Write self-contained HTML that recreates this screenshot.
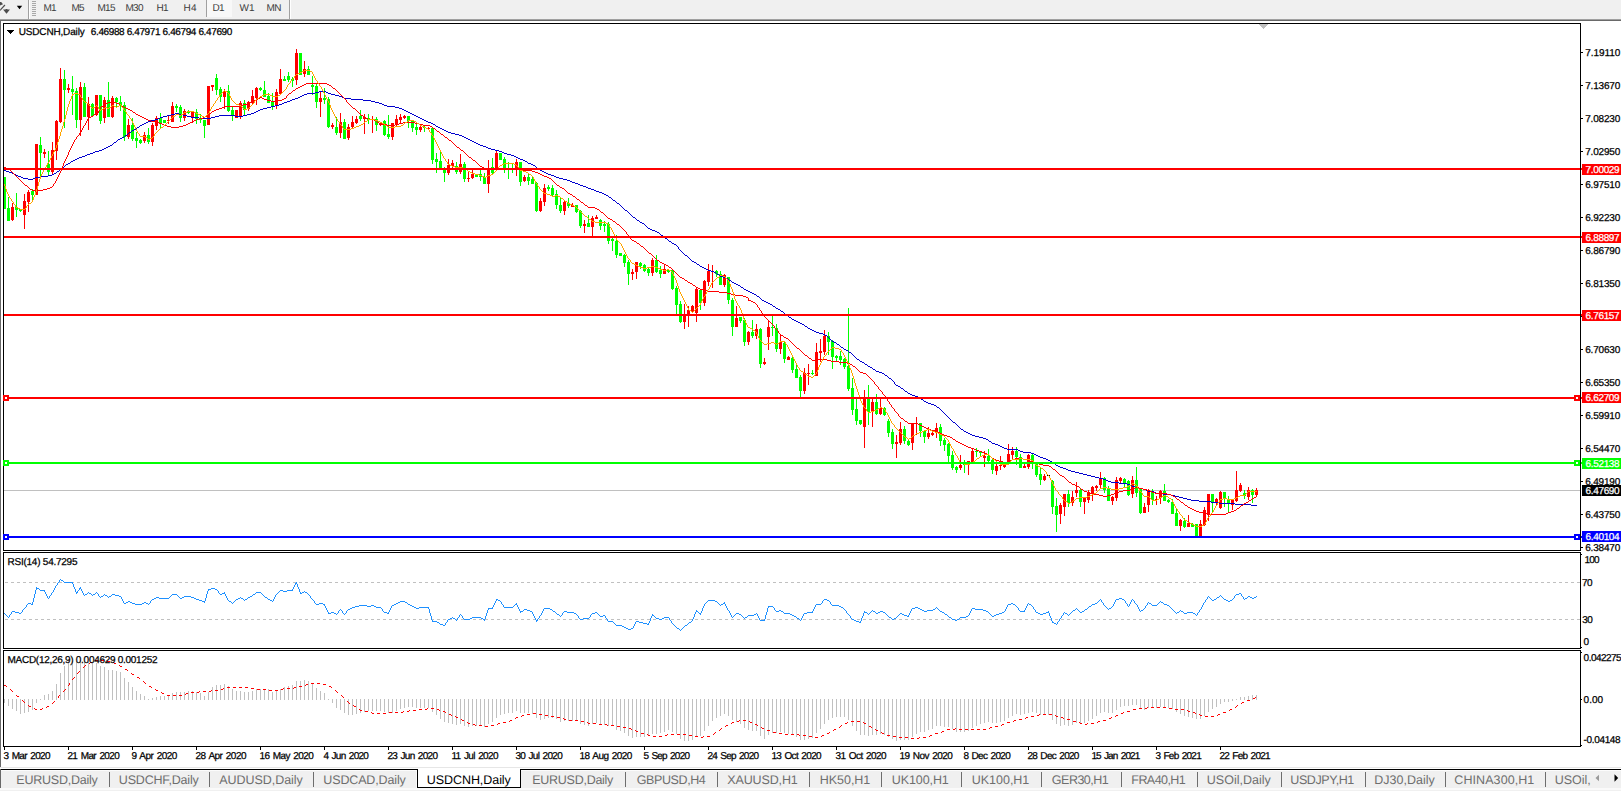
<!DOCTYPE html>
<html><head><meta charset="utf-8"><title>USDCNH,Daily</title>
<style>
html,body{margin:0;padding:0;background:#fff;overflow:hidden}
svg{display:block}
text{font-family:"Liberation Sans",sans-serif;white-space:pre;text-rendering:geometricPrecision;stroke-width:0.25px}
.c{shape-rendering:crispEdges}
</style></head><body>
<svg width="1621" height="791" viewBox="0 0 1621 791" shape-rendering="crispEdges">
<rect x="0" y="0" width="1621" height="791" fill="#ffffff" />
<rect x="0" y="0" width="1621" height="19" fill="#f0f0f0" />
<rect x="0" y="19" width="1621" height="1" fill="#a0a0a0" />
<rect x="0" y="20" width="1621" height="1" fill="#696969" />
<rect x="28" y="0" width="1" height="19" fill="#a0a0a0" />
<rect x="29" y="0" width="1" height="19" fill="#ffffff" />
<rect x="32" y="1" width="4" height="1" fill="#a8a8a8" />
<rect x="32" y="3" width="4" height="1" fill="#a8a8a8" />
<rect x="32" y="5" width="4" height="1" fill="#a8a8a8" />
<rect x="32" y="7" width="4" height="1" fill="#a8a8a8" />
<rect x="32" y="9" width="4" height="1" fill="#a8a8a8" />
<rect x="32" y="11" width="4" height="1" fill="#a8a8a8" />
<rect x="32" y="13" width="4" height="1" fill="#a8a8a8" />
<rect x="32" y="15" width="4" height="1" fill="#a8a8a8" />
<rect x="206" y="0" width="1" height="17" fill="#a0a0a0" />
<rect x="207" y="0" width="25" height="17" fill="#f8f8f8" />
<rect x="289" y="0" width="1" height="19" fill="#a0a0a0" />
<rect x="290" y="0" width="1" height="19" fill="#ffffff" />
<text x="43.5" y="11" font-size="10" fill="#3c3c3c" textLength="13" lengthAdjust="spacing" >M1</text>
<text x="71.5" y="11" font-size="10" fill="#3c3c3c" textLength="13" lengthAdjust="spacing" >M5</text>
<text x="97.5" y="11" font-size="10" fill="#3c3c3c" textLength="18" lengthAdjust="spacing" >M15</text>
<text x="125.5" y="11" font-size="10" fill="#3c3c3c" textLength="18" lengthAdjust="spacing" >M30</text>
<text x="156.5" y="11" font-size="10" fill="#3c3c3c" textLength="12" lengthAdjust="spacing" >H1</text>
<text x="183.5" y="11" font-size="10" fill="#3c3c3c" textLength="13" lengthAdjust="spacing" >H4</text>
<text x="212.5" y="11" font-size="10" fill="#3c3c3c" textLength="12" lengthAdjust="spacing" >D1</text>
<text x="239.5" y="11" font-size="10" fill="#3c3c3c" textLength="15" lengthAdjust="spacing" >W1</text>
<text x="266.5" y="11" font-size="10" fill="#3c3c3c" textLength="15" lengthAdjust="spacing" >MN</text>
<g shape-rendering="auto">
<path d="M0 2 L1.2 2 L3 4.2 L0 5.6 Z" fill="#4d4d4d"/>
<path d="M4.9 5 L0 10.4" stroke="#4d4d4d" stroke-width="1.2" fill="none"/>
<path d="M3 9.6 L5.6 9.6 L5.6 9 L7.4 9 L7.4 9.6 L10 9.6 L6.5 13.8 Z" fill="#4d4d4d"/>
<path d="M16.8 5.8 L22.2 5.8 L19.5 9.2 Z" fill="#000"/>
</g>
<rect x="0" y="21" width="1" height="746" fill="#696969" />
<rect x="4" y="490" width="1576" height="1" fill="#c0c0c0"/>
<rect x="4" y="177" width="1" height="32" fill="#00ff00"/>
<rect x="3" y="177" width="3" height="32" fill="#00ff00"/>
<rect x="8" y="197" width="1" height="24" fill="#00ff00"/>
<rect x="7" y="208" width="3" height="13" fill="#00ff00"/>
<rect x="12" y="203" width="1" height="18" fill="#ff0000"/>
<rect x="11" y="207" width="3" height="13" fill="#ff0000"/>
<rect x="16" y="193" width="1" height="24" fill="#00ff00"/>
<rect x="15" y="207" width="3" height="3" fill="#00ff00"/>
<rect x="20" y="209" width="1" height="3" fill="#00ff00"/>
<rect x="19" y="209" width="3" height="2" fill="#00ff00"/>
<rect x="24" y="194" width="1" height="35" fill="#ff0000"/>
<rect x="23" y="201" width="3" height="14" fill="#ff0000"/>
<rect x="28" y="190" width="1" height="22" fill="#ff0000"/>
<rect x="27" y="192" width="3" height="10" fill="#ff0000"/>
<rect x="32" y="189" width="1" height="12" fill="#00ff00"/>
<rect x="31" y="191" width="3" height="4" fill="#00ff00"/>
<rect x="36" y="144" width="1" height="51" fill="#ff0000"/>
<rect x="35" y="144" width="3" height="51" fill="#ff0000"/>
<rect x="40" y="137" width="1" height="39" fill="#00ff00"/>
<rect x="39" y="145" width="3" height="8" fill="#00ff00"/>
<rect x="44" y="149" width="1" height="9" fill="#ff0000"/>
<rect x="43" y="152" width="3" height="2" fill="#ff0000"/>
<rect x="48" y="151" width="1" height="25" fill="#00ff00"/>
<rect x="47" y="164" width="3" height="8" fill="#00ff00"/>
<rect x="52" y="142" width="1" height="33" fill="#ff0000"/>
<rect x="51" y="150" width="3" height="22" fill="#ff0000"/>
<rect x="56" y="120" width="1" height="40" fill="#ff0000"/>
<rect x="55" y="121" width="3" height="30" fill="#ff0000"/>
<rect x="60" y="68" width="1" height="55" fill="#ff0000"/>
<rect x="59" y="79" width="3" height="43" fill="#ff0000"/>
<rect x="64" y="70" width="1" height="58" fill="#00ff00"/>
<rect x="63" y="79" width="3" height="11" fill="#00ff00"/>
<rect x="68" y="84" width="1" height="9" fill="#ff0000"/>
<rect x="67" y="88" width="3" height="2" fill="#ff0000"/>
<rect x="72" y="76" width="1" height="39" fill="#00ff00"/>
<rect x="71" y="89" width="3" height="3" fill="#00ff00"/>
<rect x="76" y="88" width="1" height="40" fill="#00ff00"/>
<rect x="75" y="91" width="3" height="29" fill="#00ff00"/>
<rect x="80" y="82" width="1" height="54" fill="#ff0000"/>
<rect x="79" y="87" width="3" height="33" fill="#ff0000"/>
<rect x="84" y="83" width="1" height="34" fill="#00ff00"/>
<rect x="83" y="87" width="3" height="30" fill="#00ff00"/>
<rect x="88" y="97" width="1" height="33" fill="#ff0000"/>
<rect x="87" y="104" width="3" height="13" fill="#ff0000"/>
<rect x="92" y="103" width="1" height="13" fill="#00ff00"/>
<rect x="91" y="104" width="3" height="12" fill="#00ff00"/>
<rect x="96" y="95" width="1" height="21" fill="#ff0000"/>
<rect x="95" y="95" width="3" height="20" fill="#ff0000"/>
<rect x="100" y="95" width="1" height="29" fill="#00ff00"/>
<rect x="99" y="95" width="3" height="26" fill="#00ff00"/>
<rect x="104" y="97" width="1" height="26" fill="#ff0000"/>
<rect x="103" y="100" width="3" height="18" fill="#ff0000"/>
<rect x="108" y="82" width="1" height="35" fill="#00ff00"/>
<rect x="107" y="100" width="3" height="17" fill="#00ff00"/>
<rect x="112" y="96" width="1" height="22" fill="#ff0000"/>
<rect x="111" y="98" width="3" height="19" fill="#ff0000"/>
<rect x="116" y="97" width="1" height="10" fill="#00ff00"/>
<rect x="115" y="98" width="3" height="4" fill="#00ff00"/>
<rect x="120" y="96" width="1" height="15" fill="#00ff00"/>
<rect x="119" y="102" width="3" height="4" fill="#00ff00"/>
<rect x="124" y="102" width="1" height="39" fill="#00ff00"/>
<rect x="123" y="105" width="3" height="32" fill="#00ff00"/>
<rect x="128" y="119" width="1" height="20" fill="#ff0000"/>
<rect x="127" y="125" width="3" height="12" fill="#ff0000"/>
<rect x="132" y="118" width="1" height="23" fill="#00ff00"/>
<rect x="131" y="125" width="3" height="14" fill="#00ff00"/>
<rect x="136" y="132" width="1" height="16" fill="#00ff00"/>
<rect x="135" y="138" width="3" height="3" fill="#00ff00"/>
<rect x="140" y="139" width="1" height="5" fill="#00ff00"/>
<rect x="139" y="140" width="3" height="3" fill="#00ff00"/>
<rect x="144" y="132" width="1" height="11" fill="#ff0000"/>
<rect x="143" y="135" width="3" height="6" fill="#ff0000"/>
<rect x="148" y="128" width="1" height="16" fill="#00ff00"/>
<rect x="147" y="135" width="3" height="7" fill="#00ff00"/>
<rect x="152" y="123" width="1" height="23" fill="#ff0000"/>
<rect x="151" y="125" width="3" height="17" fill="#ff0000"/>
<rect x="156" y="116" width="1" height="14" fill="#ff0000"/>
<rect x="155" y="118" width="3" height="8" fill="#ff0000"/>
<rect x="160" y="113" width="1" height="15" fill="#00ff00"/>
<rect x="159" y="118" width="3" height="5" fill="#00ff00"/>
<rect x="164" y="120" width="1" height="3" fill="#00ff00"/>
<rect x="163" y="120" width="3" height="3" fill="#00ff00"/>
<rect x="168" y="116" width="1" height="8" fill="#ff0000"/>
<rect x="167" y="120" width="3" height="1" fill="#ff0000"/>
<rect x="172" y="102" width="1" height="20" fill="#ff0000"/>
<rect x="171" y="106" width="3" height="16" fill="#ff0000"/>
<rect x="176" y="104" width="1" height="8" fill="#00ff00"/>
<rect x="175" y="106" width="3" height="2" fill="#00ff00"/>
<rect x="180" y="105" width="1" height="17" fill="#00ff00"/>
<rect x="179" y="107" width="3" height="11" fill="#00ff00"/>
<rect x="184" y="109" width="1" height="12" fill="#ff0000"/>
<rect x="183" y="111" width="3" height="7" fill="#ff0000"/>
<rect x="188" y="110" width="1" height="4" fill="#00ff00"/>
<rect x="187" y="111" width="3" height="2" fill="#00ff00"/>
<rect x="192" y="111" width="1" height="12" fill="#ff0000"/>
<rect x="191" y="112" width="3" height="6" fill="#ff0000"/>
<rect x="196" y="109" width="1" height="15" fill="#00ff00"/>
<rect x="195" y="112" width="3" height="7" fill="#00ff00"/>
<rect x="200" y="114" width="1" height="9" fill="#00ff00"/>
<rect x="199" y="118" width="3" height="2" fill="#00ff00"/>
<rect x="204" y="120" width="1" height="18" fill="#00ff00"/>
<rect x="203" y="120" width="3" height="6" fill="#00ff00"/>
<rect x="208" y="86" width="1" height="39" fill="#ff0000"/>
<rect x="207" y="86" width="3" height="39" fill="#ff0000"/>
<rect x="212" y="85" width="1" height="6" fill="#ff0000"/>
<rect x="211" y="85" width="3" height="2" fill="#ff0000"/>
<rect x="216" y="74" width="1" height="21" fill="#00ff00"/>
<rect x="215" y="78" width="3" height="12" fill="#00ff00"/>
<rect x="220" y="87" width="1" height="15" fill="#00ff00"/>
<rect x="219" y="89" width="3" height="8" fill="#00ff00"/>
<rect x="224" y="89" width="1" height="20" fill="#ff0000"/>
<rect x="223" y="92" width="3" height="5" fill="#ff0000"/>
<rect x="228" y="85" width="1" height="27" fill="#00ff00"/>
<rect x="227" y="91" width="3" height="20" fill="#00ff00"/>
<rect x="232" y="106" width="1" height="15" fill="#00ff00"/>
<rect x="231" y="110" width="3" height="6" fill="#00ff00"/>
<rect x="236" y="110" width="1" height="8" fill="#ff0000"/>
<rect x="235" y="110" width="3" height="8" fill="#ff0000"/>
<rect x="240" y="101" width="1" height="18" fill="#ff0000"/>
<rect x="239" y="103" width="3" height="13" fill="#ff0000"/>
<rect x="244" y="100" width="1" height="15" fill="#00ff00"/>
<rect x="243" y="103" width="3" height="7" fill="#00ff00"/>
<rect x="248" y="101" width="1" height="10" fill="#ff0000"/>
<rect x="247" y="102" width="3" height="7" fill="#ff0000"/>
<rect x="252" y="90" width="1" height="14" fill="#ff0000"/>
<rect x="251" y="96" width="3" height="7" fill="#ff0000"/>
<rect x="256" y="87" width="1" height="18" fill="#ff0000"/>
<rect x="255" y="88" width="3" height="10" fill="#ff0000"/>
<rect x="260" y="87" width="1" height="4" fill="#00ff00"/>
<rect x="259" y="88" width="3" height="2" fill="#00ff00"/>
<rect x="264" y="81" width="1" height="16" fill="#00ff00"/>
<rect x="263" y="90" width="3" height="7" fill="#00ff00"/>
<rect x="268" y="93" width="1" height="10" fill="#00ff00"/>
<rect x="267" y="96" width="3" height="7" fill="#00ff00"/>
<rect x="272" y="93" width="1" height="17" fill="#00ff00"/>
<rect x="271" y="102" width="3" height="4" fill="#00ff00"/>
<rect x="276" y="89" width="1" height="20" fill="#ff0000"/>
<rect x="275" y="92" width="3" height="14" fill="#ff0000"/>
<rect x="280" y="69" width="1" height="26" fill="#ff0000"/>
<rect x="279" y="79" width="3" height="15" fill="#ff0000"/>
<rect x="284" y="76" width="1" height="5" fill="#00ff00"/>
<rect x="283" y="79" width="3" height="2" fill="#00ff00"/>
<rect x="288" y="72" width="1" height="10" fill="#00ff00"/>
<rect x="287" y="76" width="3" height="4" fill="#00ff00"/>
<rect x="292" y="77" width="1" height="10" fill="#00ff00"/>
<rect x="291" y="79" width="3" height="2" fill="#00ff00"/>
<rect x="296" y="49" width="1" height="36" fill="#ff0000"/>
<rect x="295" y="53" width="3" height="27" fill="#ff0000"/>
<rect x="300" y="53" width="1" height="22" fill="#00ff00"/>
<rect x="299" y="53" width="3" height="22" fill="#00ff00"/>
<rect x="304" y="61" width="1" height="16" fill="#ff0000"/>
<rect x="303" y="69" width="3" height="5" fill="#ff0000"/>
<rect x="308" y="66" width="1" height="9" fill="#00ff00"/>
<rect x="307" y="69" width="3" height="6" fill="#00ff00"/>
<rect x="312" y="76" width="1" height="19" fill="#00ff00"/>
<rect x="311" y="85" width="3" height="2" fill="#00ff00"/>
<rect x="316" y="84" width="1" height="24" fill="#00ff00"/>
<rect x="315" y="86" width="3" height="16" fill="#00ff00"/>
<rect x="320" y="91" width="1" height="26" fill="#ff0000"/>
<rect x="319" y="98" width="3" height="4" fill="#ff0000"/>
<rect x="324" y="88" width="1" height="16" fill="#00ff00"/>
<rect x="323" y="98" width="3" height="2" fill="#00ff00"/>
<rect x="328" y="97" width="1" height="31" fill="#00ff00"/>
<rect x="327" y="99" width="3" height="28" fill="#00ff00"/>
<rect x="332" y="123" width="1" height="6" fill="#ff0000"/>
<rect x="331" y="125" width="3" height="2" fill="#ff0000"/>
<rect x="336" y="117" width="1" height="18" fill="#00ff00"/>
<rect x="335" y="127" width="3" height="6" fill="#00ff00"/>
<rect x="340" y="113" width="1" height="25" fill="#ff0000"/>
<rect x="339" y="122" width="3" height="11" fill="#ff0000"/>
<rect x="344" y="119" width="1" height="20" fill="#00ff00"/>
<rect x="343" y="122" width="3" height="17" fill="#00ff00"/>
<rect x="348" y="124" width="1" height="16" fill="#ff0000"/>
<rect x="347" y="127" width="3" height="11" fill="#ff0000"/>
<rect x="352" y="116" width="1" height="12" fill="#ff0000"/>
<rect x="351" y="122" width="3" height="5" fill="#ff0000"/>
<rect x="356" y="116" width="1" height="8" fill="#ff0000"/>
<rect x="355" y="119" width="3" height="4" fill="#ff0000"/>
<rect x="360" y="110" width="1" height="11" fill="#00ff00"/>
<rect x="359" y="116" width="3" height="3" fill="#00ff00"/>
<rect x="364" y="114" width="1" height="20" fill="#ff0000"/>
<rect x="363" y="117" width="3" height="2" fill="#ff0000"/>
<rect x="368" y="114" width="1" height="10" fill="#00ff00"/>
<rect x="367" y="118" width="3" height="2" fill="#00ff00"/>
<rect x="372" y="116" width="1" height="17" fill="#ff0000"/>
<rect x="371" y="119" width="3" height="1" fill="#ff0000"/>
<rect x="376" y="117" width="1" height="14" fill="#00ff00"/>
<rect x="375" y="119" width="3" height="6" fill="#00ff00"/>
<rect x="380" y="122" width="1" height="4" fill="#ff0000"/>
<rect x="379" y="123" width="3" height="2" fill="#ff0000"/>
<rect x="384" y="120" width="1" height="16" fill="#00ff00"/>
<rect x="383" y="121" width="3" height="14" fill="#00ff00"/>
<rect x="388" y="115" width="1" height="24" fill="#00ff00"/>
<rect x="387" y="134" width="3" height="3" fill="#00ff00"/>
<rect x="392" y="123" width="1" height="17" fill="#ff0000"/>
<rect x="391" y="123" width="3" height="14" fill="#ff0000"/>
<rect x="396" y="115" width="1" height="12" fill="#ff0000"/>
<rect x="395" y="119" width="3" height="6" fill="#ff0000"/>
<rect x="400" y="114" width="1" height="9" fill="#ff0000"/>
<rect x="399" y="117" width="3" height="3" fill="#ff0000"/>
<rect x="404" y="115" width="1" height="4" fill="#ff0000"/>
<rect x="403" y="116" width="3" height="2" fill="#ff0000"/>
<rect x="408" y="116" width="1" height="12" fill="#00ff00"/>
<rect x="407" y="116" width="3" height="5" fill="#00ff00"/>
<rect x="412" y="120" width="1" height="12" fill="#00ff00"/>
<rect x="411" y="121" width="3" height="7" fill="#00ff00"/>
<rect x="416" y="123" width="1" height="12" fill="#00ff00"/>
<rect x="415" y="127" width="3" height="3" fill="#00ff00"/>
<rect x="420" y="125" width="1" height="7" fill="#ff0000"/>
<rect x="419" y="127" width="3" height="3" fill="#ff0000"/>
<rect x="424" y="126" width="1" height="6" fill="#00ff00"/>
<rect x="423" y="127" width="3" height="1" fill="#00ff00"/>
<rect x="428" y="127" width="1" height="2" fill="#ff0000"/>
<rect x="427" y="128" width="3" height="1" fill="#ff0000"/>
<rect x="432" y="127" width="1" height="37" fill="#00ff00"/>
<rect x="431" y="128" width="3" height="32" fill="#00ff00"/>
<rect x="436" y="153" width="1" height="20" fill="#00ff00"/>
<rect x="435" y="159" width="3" height="3" fill="#00ff00"/>
<rect x="440" y="151" width="1" height="17" fill="#00ff00"/>
<rect x="439" y="161" width="3" height="7" fill="#00ff00"/>
<rect x="444" y="167" width="1" height="15" fill="#00ff00"/>
<rect x="443" y="169" width="3" height="4" fill="#00ff00"/>
<rect x="448" y="159" width="1" height="16" fill="#ff0000"/>
<rect x="447" y="165" width="3" height="8" fill="#ff0000"/>
<rect x="452" y="160" width="1" height="8" fill="#ff0000"/>
<rect x="451" y="163" width="3" height="3" fill="#ff0000"/>
<rect x="456" y="162" width="1" height="12" fill="#00ff00"/>
<rect x="455" y="166" width="3" height="6" fill="#00ff00"/>
<rect x="460" y="154" width="1" height="20" fill="#ff0000"/>
<rect x="459" y="164" width="3" height="8" fill="#ff0000"/>
<rect x="464" y="162" width="1" height="20" fill="#00ff00"/>
<rect x="463" y="164" width="3" height="15" fill="#00ff00"/>
<rect x="468" y="172" width="1" height="10" fill="#ff0000"/>
<rect x="467" y="178" width="3" height="1" fill="#ff0000"/>
<rect x="472" y="169" width="1" height="10" fill="#ff0000"/>
<rect x="471" y="174" width="3" height="4" fill="#ff0000"/>
<rect x="476" y="174" width="1" height="3" fill="#00ff00"/>
<rect x="475" y="175" width="3" height="2" fill="#00ff00"/>
<rect x="480" y="169" width="1" height="12" fill="#00ff00"/>
<rect x="479" y="174" width="3" height="3" fill="#00ff00"/>
<rect x="484" y="173" width="1" height="11" fill="#00ff00"/>
<rect x="483" y="177" width="3" height="7" fill="#00ff00"/>
<rect x="488" y="160" width="1" height="33" fill="#ff0000"/>
<rect x="487" y="168" width="3" height="16" fill="#ff0000"/>
<rect x="492" y="158" width="1" height="16" fill="#00ff00"/>
<rect x="491" y="167" width="3" height="6" fill="#00ff00"/>
<rect x="496" y="150" width="1" height="21" fill="#ff0000"/>
<rect x="495" y="153" width="3" height="17" fill="#ff0000"/>
<rect x="500" y="153" width="1" height="7" fill="#00ff00"/>
<rect x="499" y="153" width="3" height="7" fill="#00ff00"/>
<rect x="504" y="157" width="1" height="16" fill="#00ff00"/>
<rect x="503" y="159" width="3" height="10" fill="#00ff00"/>
<rect x="508" y="162" width="1" height="17" fill="#00ff00"/>
<rect x="507" y="168" width="3" height="1" fill="#00ff00"/>
<rect x="512" y="164" width="1" height="9" fill="#00ff00"/>
<rect x="511" y="168" width="3" height="1" fill="#00ff00"/>
<rect x="516" y="159" width="1" height="17" fill="#ff0000"/>
<rect x="515" y="162" width="3" height="7" fill="#ff0000"/>
<rect x="520" y="162" width="1" height="24" fill="#00ff00"/>
<rect x="519" y="162" width="3" height="20" fill="#00ff00"/>
<rect x="524" y="175" width="1" height="7" fill="#ff0000"/>
<rect x="523" y="177" width="3" height="4" fill="#ff0000"/>
<rect x="528" y="173" width="1" height="12" fill="#00ff00"/>
<rect x="527" y="177" width="3" height="4" fill="#00ff00"/>
<rect x="532" y="176" width="1" height="8" fill="#00ff00"/>
<rect x="531" y="179" width="3" height="5" fill="#00ff00"/>
<rect x="536" y="182" width="1" height="30" fill="#00ff00"/>
<rect x="535" y="183" width="3" height="28" fill="#00ff00"/>
<rect x="540" y="198" width="1" height="14" fill="#ff0000"/>
<rect x="539" y="201" width="3" height="10" fill="#ff0000"/>
<rect x="544" y="184" width="1" height="22" fill="#ff0000"/>
<rect x="543" y="188" width="3" height="14" fill="#ff0000"/>
<rect x="548" y="185" width="1" height="6" fill="#00ff00"/>
<rect x="547" y="187" width="3" height="2" fill="#00ff00"/>
<rect x="552" y="185" width="1" height="12" fill="#00ff00"/>
<rect x="551" y="188" width="3" height="7" fill="#00ff00"/>
<rect x="556" y="190" width="1" height="19" fill="#00ff00"/>
<rect x="555" y="194" width="3" height="11" fill="#00ff00"/>
<rect x="560" y="198" width="1" height="15" fill="#00ff00"/>
<rect x="559" y="205" width="3" height="6" fill="#00ff00"/>
<rect x="564" y="201" width="1" height="14" fill="#ff0000"/>
<rect x="563" y="202" width="3" height="9" fill="#ff0000"/>
<rect x="568" y="198" width="1" height="10" fill="#00ff00"/>
<rect x="567" y="203" width="3" height="3" fill="#00ff00"/>
<rect x="572" y="203" width="1" height="4" fill="#ff0000"/>
<rect x="571" y="205" width="3" height="2" fill="#ff0000"/>
<rect x="576" y="205" width="1" height="8" fill="#00ff00"/>
<rect x="575" y="205" width="3" height="7" fill="#00ff00"/>
<rect x="580" y="210" width="1" height="18" fill="#00ff00"/>
<rect x="579" y="211" width="3" height="15" fill="#00ff00"/>
<rect x="584" y="220" width="1" height="13" fill="#ff0000"/>
<rect x="583" y="224" width="3" height="2" fill="#ff0000"/>
<rect x="588" y="215" width="1" height="12" fill="#00ff00"/>
<rect x="587" y="223" width="3" height="4" fill="#00ff00"/>
<rect x="592" y="216" width="1" height="20" fill="#ff0000"/>
<rect x="591" y="218" width="3" height="9" fill="#ff0000"/>
<rect x="596" y="215" width="1" height="4" fill="#ff0000"/>
<rect x="595" y="217" width="3" height="2" fill="#ff0000"/>
<rect x="600" y="219" width="1" height="11" fill="#00ff00"/>
<rect x="599" y="220" width="3" height="6" fill="#00ff00"/>
<rect x="604" y="221" width="1" height="11" fill="#00ff00"/>
<rect x="603" y="224" width="3" height="2" fill="#00ff00"/>
<rect x="608" y="222" width="1" height="22" fill="#00ff00"/>
<rect x="607" y="224" width="3" height="17" fill="#00ff00"/>
<rect x="612" y="238" width="1" height="13" fill="#00ff00"/>
<rect x="611" y="239" width="3" height="2" fill="#00ff00"/>
<rect x="616" y="235" width="1" height="23" fill="#00ff00"/>
<rect x="615" y="241" width="3" height="14" fill="#00ff00"/>
<rect x="620" y="253" width="1" height="3" fill="#00ff00"/>
<rect x="619" y="253" width="3" height="3" fill="#00ff00"/>
<rect x="624" y="254" width="1" height="13" fill="#00ff00"/>
<rect x="623" y="255" width="3" height="8" fill="#00ff00"/>
<rect x="628" y="260" width="1" height="25" fill="#00ff00"/>
<rect x="627" y="262" width="3" height="12" fill="#00ff00"/>
<rect x="632" y="269" width="1" height="11" fill="#ff0000"/>
<rect x="631" y="272" width="3" height="2" fill="#ff0000"/>
<rect x="636" y="262" width="1" height="17" fill="#ff0000"/>
<rect x="635" y="262" width="3" height="10" fill="#ff0000"/>
<rect x="640" y="262" width="1" height="7" fill="#00ff00"/>
<rect x="639" y="263" width="3" height="3" fill="#00ff00"/>
<rect x="644" y="264" width="1" height="8" fill="#00ff00"/>
<rect x="643" y="265" width="3" height="6" fill="#00ff00"/>
<rect x="648" y="268" width="1" height="8" fill="#00ff00"/>
<rect x="647" y="269" width="3" height="4" fill="#00ff00"/>
<rect x="652" y="258" width="1" height="18" fill="#ff0000"/>
<rect x="651" y="260" width="3" height="13" fill="#ff0000"/>
<rect x="656" y="255" width="1" height="18" fill="#00ff00"/>
<rect x="655" y="260" width="3" height="12" fill="#00ff00"/>
<rect x="660" y="266" width="1" height="12" fill="#00ff00"/>
<rect x="659" y="270" width="3" height="4" fill="#00ff00"/>
<rect x="664" y="264" width="1" height="10" fill="#ff0000"/>
<rect x="663" y="269" width="3" height="5" fill="#ff0000"/>
<rect x="668" y="269" width="1" height="4" fill="#00ff00"/>
<rect x="667" y="270" width="3" height="2" fill="#00ff00"/>
<rect x="672" y="270" width="1" height="20" fill="#00ff00"/>
<rect x="671" y="270" width="3" height="19" fill="#00ff00"/>
<rect x="676" y="286" width="1" height="28" fill="#00ff00"/>
<rect x="675" y="288" width="3" height="17" fill="#00ff00"/>
<rect x="680" y="301" width="1" height="22" fill="#00ff00"/>
<rect x="679" y="304" width="3" height="18" fill="#00ff00"/>
<rect x="684" y="304" width="1" height="25" fill="#ff0000"/>
<rect x="683" y="314" width="3" height="8" fill="#ff0000"/>
<rect x="688" y="306" width="1" height="21" fill="#ff0000"/>
<rect x="687" y="310" width="3" height="5" fill="#ff0000"/>
<rect x="692" y="305" width="1" height="8" fill="#ff0000"/>
<rect x="691" y="306" width="3" height="5" fill="#ff0000"/>
<rect x="696" y="287" width="1" height="35" fill="#ff0000"/>
<rect x="695" y="289" width="3" height="24" fill="#ff0000"/>
<rect x="700" y="289" width="1" height="21" fill="#00ff00"/>
<rect x="699" y="290" width="3" height="13" fill="#00ff00"/>
<rect x="704" y="280" width="1" height="26" fill="#ff0000"/>
<rect x="703" y="281" width="3" height="22" fill="#ff0000"/>
<rect x="708" y="264" width="1" height="22" fill="#ff0000"/>
<rect x="707" y="271" width="3" height="11" fill="#ff0000"/>
<rect x="712" y="265" width="1" height="23" fill="#ff0000"/>
<rect x="711" y="271" width="3" height="1" fill="#ff0000"/>
<rect x="716" y="270" width="1" height="7" fill="#00ff00"/>
<rect x="715" y="271" width="3" height="3" fill="#00ff00"/>
<rect x="720" y="271" width="1" height="14" fill="#00ff00"/>
<rect x="719" y="274" width="3" height="11" fill="#00ff00"/>
<rect x="724" y="274" width="1" height="13" fill="#ff0000"/>
<rect x="723" y="275" width="3" height="10" fill="#ff0000"/>
<rect x="728" y="277" width="1" height="27" fill="#00ff00"/>
<rect x="727" y="277" width="3" height="23" fill="#00ff00"/>
<rect x="732" y="298" width="1" height="38" fill="#00ff00"/>
<rect x="731" y="300" width="3" height="27" fill="#00ff00"/>
<rect x="736" y="306" width="1" height="21" fill="#ff0000"/>
<rect x="735" y="318" width="3" height="9" fill="#ff0000"/>
<rect x="740" y="317" width="1" height="6" fill="#00ff00"/>
<rect x="739" y="317" width="3" height="4" fill="#00ff00"/>
<rect x="744" y="318" width="1" height="28" fill="#00ff00"/>
<rect x="743" y="320" width="3" height="22" fill="#00ff00"/>
<rect x="748" y="331" width="1" height="14" fill="#ff0000"/>
<rect x="747" y="332" width="3" height="10" fill="#ff0000"/>
<rect x="752" y="320" width="1" height="18" fill="#00ff00"/>
<rect x="751" y="332" width="3" height="4" fill="#00ff00"/>
<rect x="756" y="324" width="1" height="15" fill="#ff0000"/>
<rect x="755" y="329" width="3" height="7" fill="#ff0000"/>
<rect x="760" y="328" width="1" height="40" fill="#00ff00"/>
<rect x="759" y="329" width="3" height="35" fill="#00ff00"/>
<rect x="764" y="358" width="1" height="7" fill="#ff0000"/>
<rect x="763" y="362" width="3" height="2" fill="#ff0000"/>
<rect x="768" y="320" width="1" height="30" fill="#ff0000"/>
<rect x="767" y="327" width="3" height="10" fill="#ff0000"/>
<rect x="772" y="316" width="1" height="20" fill="#00ff00"/>
<rect x="771" y="327" width="3" height="1" fill="#00ff00"/>
<rect x="776" y="324" width="1" height="28" fill="#00ff00"/>
<rect x="775" y="328" width="3" height="21" fill="#00ff00"/>
<rect x="780" y="334" width="1" height="20" fill="#ff0000"/>
<rect x="779" y="342" width="3" height="7" fill="#ff0000"/>
<rect x="784" y="342" width="1" height="21" fill="#00ff00"/>
<rect x="783" y="343" width="3" height="16" fill="#00ff00"/>
<rect x="788" y="356" width="1" height="4" fill="#ff0000"/>
<rect x="787" y="357" width="3" height="3" fill="#ff0000"/>
<rect x="792" y="356" width="1" height="17" fill="#00ff00"/>
<rect x="791" y="358" width="3" height="12" fill="#00ff00"/>
<rect x="796" y="364" width="1" height="14" fill="#00ff00"/>
<rect x="795" y="369" width="3" height="9" fill="#00ff00"/>
<rect x="800" y="375" width="1" height="22" fill="#00ff00"/>
<rect x="799" y="377" width="3" height="14" fill="#00ff00"/>
<rect x="804" y="368" width="1" height="26" fill="#ff0000"/>
<rect x="803" y="373" width="3" height="18" fill="#ff0000"/>
<rect x="808" y="364" width="1" height="21" fill="#ff0000"/>
<rect x="807" y="373" width="3" height="1" fill="#ff0000"/>
<rect x="812" y="370" width="1" height="5" fill="#00ff00"/>
<rect x="811" y="373" width="3" height="1" fill="#00ff00"/>
<rect x="816" y="343" width="1" height="33" fill="#ff0000"/>
<rect x="815" y="352" width="3" height="24" fill="#ff0000"/>
<rect x="820" y="339" width="1" height="23" fill="#ff0000"/>
<rect x="819" y="351" width="3" height="2" fill="#ff0000"/>
<rect x="824" y="330" width="1" height="25" fill="#ff0000"/>
<rect x="823" y="336" width="3" height="16" fill="#ff0000"/>
<rect x="828" y="332" width="1" height="23" fill="#00ff00"/>
<rect x="827" y="336" width="3" height="6" fill="#00ff00"/>
<rect x="832" y="340" width="1" height="29" fill="#00ff00"/>
<rect x="831" y="341" width="3" height="16" fill="#00ff00"/>
<rect x="836" y="355" width="1" height="6" fill="#00ff00"/>
<rect x="835" y="356" width="3" height="2" fill="#00ff00"/>
<rect x="840" y="351" width="1" height="14" fill="#00ff00"/>
<rect x="839" y="356" width="3" height="4" fill="#00ff00"/>
<rect x="844" y="358" width="1" height="11" fill="#00ff00"/>
<rect x="843" y="359" width="3" height="8" fill="#00ff00"/>
<rect x="848" y="308" width="1" height="83" fill="#00ff00"/>
<rect x="847" y="366" width="3" height="23" fill="#00ff00"/>
<rect x="852" y="378" width="1" height="37" fill="#00ff00"/>
<rect x="851" y="388" width="3" height="22" fill="#00ff00"/>
<rect x="856" y="399" width="1" height="26" fill="#00ff00"/>
<rect x="855" y="409" width="3" height="12" fill="#00ff00"/>
<rect x="860" y="420" width="1" height="5" fill="#00ff00"/>
<rect x="859" y="420" width="3" height="4" fill="#00ff00"/>
<rect x="864" y="390" width="1" height="58" fill="#ff0000"/>
<rect x="863" y="398" width="3" height="29" fill="#ff0000"/>
<rect x="868" y="385" width="1" height="40" fill="#00ff00"/>
<rect x="867" y="398" width="3" height="14" fill="#00ff00"/>
<rect x="872" y="398" width="1" height="29" fill="#ff0000"/>
<rect x="871" y="402" width="3" height="10" fill="#ff0000"/>
<rect x="876" y="394" width="1" height="21" fill="#00ff00"/>
<rect x="875" y="402" width="3" height="12" fill="#00ff00"/>
<rect x="880" y="399" width="1" height="16" fill="#ff0000"/>
<rect x="879" y="408" width="3" height="6" fill="#ff0000"/>
<rect x="884" y="407" width="1" height="9" fill="#00ff00"/>
<rect x="883" y="408" width="3" height="7" fill="#00ff00"/>
<rect x="888" y="419" width="1" height="18" fill="#00ff00"/>
<rect x="887" y="421" width="3" height="12" fill="#00ff00"/>
<rect x="892" y="429" width="1" height="20" fill="#00ff00"/>
<rect x="891" y="432" width="3" height="12" fill="#00ff00"/>
<rect x="896" y="435" width="1" height="23" fill="#ff0000"/>
<rect x="895" y="442" width="3" height="2" fill="#ff0000"/>
<rect x="900" y="422" width="1" height="23" fill="#ff0000"/>
<rect x="899" y="429" width="3" height="14" fill="#ff0000"/>
<rect x="904" y="426" width="1" height="18" fill="#00ff00"/>
<rect x="903" y="429" width="3" height="12" fill="#00ff00"/>
<rect x="908" y="439" width="1" height="7" fill="#00ff00"/>
<rect x="907" y="441" width="3" height="4" fill="#00ff00"/>
<rect x="912" y="423" width="1" height="27" fill="#ff0000"/>
<rect x="911" y="423" width="3" height="20" fill="#ff0000"/>
<rect x="916" y="417" width="1" height="18" fill="#ff0000"/>
<rect x="915" y="423" width="3" height="1" fill="#ff0000"/>
<rect x="920" y="423" width="1" height="14" fill="#00ff00"/>
<rect x="919" y="423" width="3" height="8" fill="#00ff00"/>
<rect x="924" y="431" width="1" height="12" fill="#00ff00"/>
<rect x="923" y="431" width="3" height="6" fill="#00ff00"/>
<rect x="928" y="427" width="1" height="12" fill="#ff0000"/>
<rect x="927" y="433" width="3" height="4" fill="#ff0000"/>
<rect x="932" y="432" width="1" height="4" fill="#ff0000"/>
<rect x="931" y="433" width="3" height="2" fill="#ff0000"/>
<rect x="936" y="423" width="1" height="15" fill="#ff0000"/>
<rect x="935" y="428" width="3" height="4" fill="#ff0000"/>
<rect x="940" y="424" width="1" height="22" fill="#00ff00"/>
<rect x="939" y="427" width="3" height="14" fill="#00ff00"/>
<rect x="944" y="438" width="1" height="13" fill="#00ff00"/>
<rect x="943" y="440" width="3" height="5" fill="#00ff00"/>
<rect x="948" y="443" width="1" height="19" fill="#00ff00"/>
<rect x="947" y="444" width="3" height="12" fill="#00ff00"/>
<rect x="952" y="451" width="1" height="19" fill="#00ff00"/>
<rect x="951" y="455" width="3" height="13" fill="#00ff00"/>
<rect x="956" y="466" width="1" height="7" fill="#00ff00"/>
<rect x="955" y="467" width="3" height="3" fill="#00ff00"/>
<rect x="960" y="455" width="1" height="15" fill="#ff0000"/>
<rect x="959" y="465" width="3" height="3" fill="#ff0000"/>
<rect x="964" y="460" width="1" height="13" fill="#00ff00"/>
<rect x="963" y="463" width="3" height="2" fill="#00ff00"/>
<rect x="968" y="461" width="1" height="14" fill="#ff0000"/>
<rect x="967" y="461" width="3" height="4" fill="#ff0000"/>
<rect x="972" y="448" width="1" height="14" fill="#ff0000"/>
<rect x="971" y="451" width="3" height="11" fill="#ff0000"/>
<rect x="976" y="448" width="1" height="9" fill="#00ff00"/>
<rect x="975" y="451" width="3" height="1" fill="#00ff00"/>
<rect x="980" y="451" width="1" height="5" fill="#00ff00"/>
<rect x="979" y="452" width="3" height="1" fill="#00ff00"/>
<rect x="984" y="451" width="1" height="16" fill="#ff0000"/>
<rect x="983" y="456" width="3" height="2" fill="#ff0000"/>
<rect x="988" y="449" width="1" height="13" fill="#00ff00"/>
<rect x="987" y="456" width="3" height="5" fill="#00ff00"/>
<rect x="992" y="459" width="1" height="15" fill="#00ff00"/>
<rect x="991" y="460" width="3" height="10" fill="#00ff00"/>
<rect x="996" y="463" width="1" height="12" fill="#ff0000"/>
<rect x="995" y="466" width="3" height="5" fill="#ff0000"/>
<rect x="1000" y="456" width="1" height="14" fill="#ff0000"/>
<rect x="999" y="465" width="3" height="1" fill="#ff0000"/>
<rect x="1004" y="463" width="1" height="5" fill="#ff0000"/>
<rect x="1003" y="465" width="3" height="2" fill="#ff0000"/>
<rect x="1008" y="444" width="1" height="19" fill="#ff0000"/>
<rect x="1007" y="454" width="3" height="9" fill="#ff0000"/>
<rect x="1012" y="447" width="1" height="12" fill="#ff0000"/>
<rect x="1011" y="451" width="3" height="4" fill="#ff0000"/>
<rect x="1016" y="447" width="1" height="18" fill="#00ff00"/>
<rect x="1015" y="451" width="3" height="6" fill="#00ff00"/>
<rect x="1020" y="454" width="1" height="14" fill="#00ff00"/>
<rect x="1019" y="457" width="3" height="11" fill="#00ff00"/>
<rect x="1024" y="464" width="1" height="4" fill="#ff0000"/>
<rect x="1023" y="466" width="3" height="2" fill="#ff0000"/>
<rect x="1028" y="454" width="1" height="15" fill="#ff0000"/>
<rect x="1027" y="455" width="3" height="12" fill="#ff0000"/>
<rect x="1032" y="453" width="1" height="16" fill="#00ff00"/>
<rect x="1031" y="455" width="3" height="8" fill="#00ff00"/>
<rect x="1036" y="463" width="1" height="14" fill="#00ff00"/>
<rect x="1035" y="464" width="3" height="11" fill="#00ff00"/>
<rect x="1040" y="467" width="1" height="18" fill="#00ff00"/>
<rect x="1039" y="474" width="3" height="6" fill="#00ff00"/>
<rect x="1044" y="474" width="1" height="7" fill="#ff0000"/>
<rect x="1043" y="476" width="3" height="4" fill="#ff0000"/>
<rect x="1048" y="475" width="1" height="1" fill="#000000"/>
<rect x="1047" y="475" width="3" height="1" fill="#000000"/>
<rect x="1052" y="480" width="1" height="34" fill="#00ff00"/>
<rect x="1051" y="481" width="3" height="26" fill="#00ff00"/>
<rect x="1056" y="498" width="1" height="34" fill="#00ff00"/>
<rect x="1055" y="506" width="3" height="9" fill="#00ff00"/>
<rect x="1060" y="503" width="1" height="21" fill="#ff0000"/>
<rect x="1059" y="505" width="3" height="9" fill="#ff0000"/>
<rect x="1064" y="494" width="1" height="22" fill="#ff0000"/>
<rect x="1063" y="494" width="3" height="13" fill="#ff0000"/>
<rect x="1068" y="490" width="1" height="17" fill="#00ff00"/>
<rect x="1067" y="494" width="3" height="9" fill="#00ff00"/>
<rect x="1072" y="491" width="1" height="15" fill="#ff0000"/>
<rect x="1071" y="497" width="3" height="6" fill="#ff0000"/>
<rect x="1076" y="482" width="1" height="15" fill="#ff0000"/>
<rect x="1075" y="490" width="3" height="3" fill="#ff0000"/>
<rect x="1080" y="489" width="1" height="18" fill="#00ff00"/>
<rect x="1079" y="490" width="3" height="12" fill="#00ff00"/>
<rect x="1084" y="497" width="1" height="17" fill="#ff0000"/>
<rect x="1083" y="498" width="3" height="4" fill="#ff0000"/>
<rect x="1088" y="490" width="1" height="13" fill="#ff0000"/>
<rect x="1087" y="493" width="3" height="7" fill="#ff0000"/>
<rect x="1092" y="486" width="1" height="15" fill="#ff0000"/>
<rect x="1091" y="487" width="3" height="7" fill="#ff0000"/>
<rect x="1096" y="485" width="1" height="6" fill="#ff0000"/>
<rect x="1095" y="486" width="3" height="2" fill="#ff0000"/>
<rect x="1100" y="472" width="1" height="17" fill="#ff0000"/>
<rect x="1099" y="479" width="3" height="6" fill="#ff0000"/>
<rect x="1104" y="477" width="1" height="16" fill="#00ff00"/>
<rect x="1103" y="478" width="3" height="12" fill="#00ff00"/>
<rect x="1108" y="486" width="1" height="15" fill="#00ff00"/>
<rect x="1107" y="489" width="3" height="12" fill="#00ff00"/>
<rect x="1112" y="496" width="1" height="9" fill="#ff0000"/>
<rect x="1111" y="497" width="3" height="4" fill="#ff0000"/>
<rect x="1116" y="477" width="1" height="24" fill="#ff0000"/>
<rect x="1115" y="480" width="3" height="18" fill="#ff0000"/>
<rect x="1120" y="477" width="1" height="6" fill="#ff0000"/>
<rect x="1119" y="478" width="3" height="3" fill="#ff0000"/>
<rect x="1124" y="478" width="1" height="9" fill="#00ff00"/>
<rect x="1123" y="479" width="3" height="5" fill="#00ff00"/>
<rect x="1128" y="480" width="1" height="16" fill="#00ff00"/>
<rect x="1127" y="481" width="3" height="14" fill="#00ff00"/>
<rect x="1132" y="476" width="1" height="22" fill="#ff0000"/>
<rect x="1131" y="480" width="3" height="14" fill="#ff0000"/>
<rect x="1136" y="467" width="1" height="30" fill="#00ff00"/>
<rect x="1135" y="480" width="3" height="13" fill="#00ff00"/>
<rect x="1140" y="488" width="1" height="26" fill="#00ff00"/>
<rect x="1139" y="489" width="3" height="24" fill="#00ff00"/>
<rect x="1144" y="503" width="1" height="10" fill="#ff0000"/>
<rect x="1143" y="507" width="3" height="6" fill="#ff0000"/>
<rect x="1148" y="489" width="1" height="23" fill="#ff0000"/>
<rect x="1147" y="491" width="3" height="14" fill="#ff0000"/>
<rect x="1152" y="489" width="1" height="16" fill="#00ff00"/>
<rect x="1151" y="491" width="3" height="9" fill="#00ff00"/>
<rect x="1156" y="496" width="1" height="9" fill="#ff0000"/>
<rect x="1155" y="499" width="3" height="1" fill="#ff0000"/>
<rect x="1160" y="490" width="1" height="14" fill="#ff0000"/>
<rect x="1159" y="491" width="3" height="7" fill="#ff0000"/>
<rect x="1164" y="484" width="1" height="17" fill="#00ff00"/>
<rect x="1163" y="491" width="3" height="10" fill="#00ff00"/>
<rect x="1168" y="499" width="1" height="4" fill="#00ff00"/>
<rect x="1167" y="500" width="3" height="2" fill="#00ff00"/>
<rect x="1172" y="499" width="1" height="15" fill="#00ff00"/>
<rect x="1171" y="502" width="3" height="12" fill="#00ff00"/>
<rect x="1176" y="508" width="1" height="18" fill="#00ff00"/>
<rect x="1175" y="513" width="3" height="13" fill="#00ff00"/>
<rect x="1180" y="519" width="1" height="12" fill="#ff0000"/>
<rect x="1179" y="520" width="3" height="6" fill="#ff0000"/>
<rect x="1184" y="518" width="1" height="10" fill="#00ff00"/>
<rect x="1183" y="521" width="3" height="6" fill="#00ff00"/>
<rect x="1188" y="515" width="1" height="12" fill="#ff0000"/>
<rect x="1187" y="523" width="3" height="4" fill="#ff0000"/>
<rect x="1192" y="523" width="1" height="4" fill="#00ff00"/>
<rect x="1191" y="524" width="3" height="3" fill="#00ff00"/>
<rect x="1196" y="524" width="1" height="12" fill="#00ff00"/>
<rect x="1195" y="524" width="3" height="12" fill="#00ff00"/>
<rect x="1200" y="520" width="1" height="16" fill="#ff0000"/>
<rect x="1199" y="524" width="3" height="12" fill="#ff0000"/>
<rect x="1204" y="507" width="1" height="19" fill="#ff0000"/>
<rect x="1203" y="510" width="3" height="15" fill="#ff0000"/>
<rect x="1208" y="494" width="1" height="27" fill="#ff0000"/>
<rect x="1207" y="494" width="3" height="21" fill="#ff0000"/>
<rect x="1212" y="494" width="1" height="19" fill="#00ff00"/>
<rect x="1211" y="494" width="3" height="9" fill="#00ff00"/>
<rect x="1216" y="498" width="1" height="8" fill="#ff0000"/>
<rect x="1215" y="499" width="3" height="4" fill="#ff0000"/>
<rect x="1220" y="491" width="1" height="18" fill="#ff0000"/>
<rect x="1219" y="492" width="3" height="16" fill="#ff0000"/>
<rect x="1224" y="492" width="1" height="15" fill="#00ff00"/>
<rect x="1223" y="492" width="3" height="7" fill="#00ff00"/>
<rect x="1228" y="496" width="1" height="17" fill="#00ff00"/>
<rect x="1227" y="500" width="3" height="4" fill="#00ff00"/>
<rect x="1232" y="500" width="1" height="10" fill="#ff0000"/>
<rect x="1231" y="500" width="3" height="5" fill="#ff0000"/>
<rect x="1236" y="471" width="1" height="31" fill="#ff0000"/>
<rect x="1235" y="490" width="3" height="11" fill="#ff0000"/>
<rect x="1240" y="483" width="1" height="9" fill="#ff0000"/>
<rect x="1239" y="485" width="3" height="6" fill="#ff0000"/>
<rect x="1244" y="490" width="1" height="9" fill="#00ff00"/>
<rect x="1243" y="493" width="3" height="3" fill="#00ff00"/>
<rect x="1248" y="487" width="1" height="13" fill="#ff0000"/>
<rect x="1247" y="490" width="3" height="7" fill="#ff0000"/>
<rect x="1252" y="489" width="1" height="14" fill="#00ff00"/>
<rect x="1251" y="490" width="3" height="5" fill="#00ff00"/>
<rect x="1256" y="488" width="1" height="8" fill="#ff0000"/>
<rect x="1255" y="490" width="3" height="5" fill="#ff0000"/>
<path d="M319 91.5h7M315 92.5h4M326 92.5h2M307 93.5h8M328 93.5h3M304 94.5h3M331 94.5h4M302 95.5h2M335 95.5h4M300 96.5h2M339 96.5h3M298 97.5h2M342 97.5h2M295 98.5h3M344 98.5h7M292 99.5h3M351 99.5h12M290 100.5h2M363 100.5h8M287 101.5h3M371 101.5h4M284 102.5h3M375 102.5h4M282 103.5h2M379 103.5h3M279 104.5h3M382 104.5h2M275 105.5h4M384 105.5h3M271 106.5h4M387 106.5h8M267 107.5h4M395 107.5h4M263 108.5h4M399 108.5h3M260 109.5h3M402 109.5h2M258 110.5h2M404 110.5h2M256 111.5h2M406 111.5h2M254 112.5h2M408 112.5h2M175 113.5h4M251 113.5h3M410 113.5h2M171 114.5h4M179 114.5h4M247 114.5h4M412 114.5h2M167 115.5h4M183 115.5h4M219 115.5h16M243 115.5h4M414 115.5h2M163 116.5h4M187 116.5h4M215 116.5h4M235 116.5h8M416 116.5h2M160 117.5h3M191 117.5h8M211 117.5h4M418 117.5h2M158 118.5h2M199 118.5h12M420 118.5h2M155 119.5h3M422 119.5h2M151 120.5h4M424 120.5h2M148 121.5h3M426 121.5h2M146 122.5h2M428 122.5h3M144 123.5h2M431 123.5h2M142 124.5h2M433 124.5h2M140 125.5h2M435 125.5h1M139 126.5h1M436 126.5h2M137 127.5h2M438 127.5h2M136 128.5h1M440 128.5h2M134 129.5h2M442 129.5h2M132 130.5h2M444 130.5h2M131 131.5h1M446 131.5h2M129 132.5h2M448 132.5h3M128 133.5h1M451 133.5h4M127 134.5h1M455 134.5h4M125 135.5h2M459 135.5h3M124 136.5h1M462 136.5h2M122 137.5h2M464 137.5h2M120 138.5h2M466 138.5h2M118 139.5h2M468 139.5h2M117 140.5h1M470 140.5h2M116 141.5h1M472 141.5h2M114 142.5h2M474 142.5h2M113 143.5h1M476 143.5h2M112 144.5h1M478 144.5h2M110 145.5h2M480 145.5h3M108 146.5h2M483 146.5h3M106 147.5h2M486 147.5h2M104 148.5h2M488 148.5h3M102 149.5h2M491 149.5h4M99 150.5h3M495 150.5h4M95 151.5h4M499 151.5h3M93 152.5h2M502 152.5h2M90 153.5h3M504 153.5h3M87 154.5h3M507 154.5h4M85 155.5h2M511 155.5h3M82 156.5h3M514 156.5h2M79 157.5h3M516 157.5h2M77 158.5h2M518 158.5h2M75 159.5h2M520 159.5h3M73 160.5h2M523 160.5h2M71 161.5h2M525 161.5h2M70 162.5h1M527 162.5h1M68 163.5h2M528 163.5h3M66 164.5h2M531 164.5h2M65 165.5h1M533 165.5h2M64 166.5h1M535 166.5h1M62 167.5h2M536 167.5h1M61 168.5h1M537 168.5h2M60 169.5h1M539 169.5h1M4 170.5h2M59 170.5h1M540 170.5h2M6 171.5h3M57 171.5h2M542 171.5h2M9 172.5h3M56 172.5h1M544 172.5h2M12 173.5h2M54 173.5h2M546 173.5h2M14 174.5h2M52 174.5h2M548 174.5h3M16 175.5h2M48 175.5h4M551 175.5h3M18 176.5h3M41 176.5h7M554 176.5h2M21 177.5h2M35 177.5h6M556 177.5h3M23 178.5h5M33 178.5h2M559 178.5h4M28 179.5h5M563 179.5h4M567 180.5h3M570 181.5h2M572 182.5h3M575 183.5h3M578 184.5h2M580 185.5h3M583 186.5h3M586 187.5h2M588 188.5h3M591 189.5h3M594 190.5h2M596 191.5h3M599 192.5h3M602 193.5h2M604 194.5h2M606 195.5h2M608 196.5h1M609 197.5h2M611 198.5h1M612 199.5h1M613 200.5h2M615 201.5h1M616 202.5h1M617 203.5h2M619 204.5h1M620 205.5h1M621 206.5h1M622 207.5h1M623 208.5h1M624 209.5h1M625 210.5h2M627 211.5h1M628 212.5h1M629 213.5h1M630 214.5h1M631 215.5h1M632 216.5h1M633 217.5h2M635 218.5h1M636 219.5h1M637 220.5h2M639 221.5h1M640 222.5h2M642 223.5h2M644 224.5h1M645 225.5h1M646 226.5h1M647 227.5h1M648 228.5h2M650 229.5h2M652 230.5h3M655 231.5h2M657 232.5h2M659 233.5h1M660 234.5h1M661 235.5h2M663 236.5h1M664 237.5h1M665 238.5h2M667 239.5h1M668 240.5h1M669 241.5h2M671 242.5h1M672 243.5h2M674 244.5h2M676 245.5h1M677 246.5h1M678 247.5h1M678 248.5h1M679 249.5h1M680 250.5h1M681 251.5h1M682 252.5h1M683 253.5h1M684 254.5h1M685 255.5h2M687 256.5h1M688 257.5h1M689 258.5h1M690 259.5h1M691 260.5h1M692 261.5h2M694 262.5h2M696 263.5h1M697 264.5h2M699 265.5h1M700 266.5h2M702 267.5h2M704 268.5h2M706 269.5h2M708 270.5h3M711 271.5h3M714 272.5h2M716 273.5h1M717 274.5h2M719 275.5h1M720 276.5h3M723 277.5h3M726 278.5h2M728 279.5h1M729 280.5h2M731 281.5h1M732 282.5h2M734 283.5h2M736 284.5h2M738 285.5h2M740 286.5h1M741 287.5h2M743 288.5h1M744 289.5h2M746 290.5h2M748 291.5h2M750 292.5h2M752 293.5h2M754 294.5h2M756 295.5h1M757 296.5h2M759 297.5h1M760 298.5h1M761 299.5h1M762 300.5h2M764 301.5h2M766 302.5h2M768 303.5h2M770 304.5h2M772 305.5h1M773 306.5h2M775 307.5h1M776 308.5h2M778 309.5h2M780 310.5h1M781 311.5h2M783 312.5h1M784 313.5h1M785 314.5h2M787 315.5h1M788 316.5h1M789 317.5h2M791 318.5h1M792 319.5h2M794 320.5h2M796 321.5h2M798 322.5h2M800 323.5h2M802 324.5h2M804 325.5h1M805 326.5h2M807 327.5h1M808 328.5h2M810 329.5h2M812 330.5h2M814 331.5h2M816 332.5h3M819 333.5h4M823 334.5h2M825 335.5h2M827 336.5h1M828 337.5h1M829 338.5h1M830 339.5h1M831 340.5h1M832 341.5h2M834 342.5h2M836 343.5h1M837 344.5h2M839 345.5h1M840 346.5h1M841 347.5h2M843 348.5h1M844 349.5h2M846 350.5h2M848 351.5h1M849 352.5h2M851 353.5h1M852 354.5h1M853 355.5h1M854 356.5h1M855 357.5h1M856 358.5h1M857 359.5h2M859 360.5h1M860 361.5h2M862 362.5h2M864 363.5h1M865 364.5h2M867 365.5h1M868 366.5h2M870 367.5h2M872 368.5h1M873 369.5h2M875 370.5h1M876 371.5h3M879 372.5h3M882 373.5h2M884 374.5h1M885 375.5h2M887 376.5h1M888 377.5h1M889 378.5h2M891 379.5h1M892 380.5h1M893 381.5h1M894 382.5h1M894 383.5h1M895 384.5h1M896 385.5h2M898 386.5h2M900 387.5h1M901 388.5h2M903 389.5h1M904 390.5h1M905 391.5h2M907 392.5h1M908 393.5h2M910 394.5h2M912 395.5h3M915 396.5h3M918 397.5h2M920 398.5h1M921 399.5h2M923 400.5h1M924 401.5h2M926 402.5h2M928 403.5h3M931 404.5h3M934 405.5h2M936 406.5h1M937 407.5h2M939 408.5h1M940 409.5h1M941 410.5h1M942 411.5h1M943 412.5h1M944 413.5h1M945 414.5h1M946 415.5h1M947 416.5h1M948 417.5h1M949 418.5h1M950 419.5h1M951 420.5h1M952 421.5h1M953 422.5h2M955 423.5h1M956 424.5h1M957 425.5h1M958 426.5h1M959 427.5h1M960 428.5h1M961 429.5h2M963 430.5h1M964 431.5h2M966 432.5h2M968 433.5h2M970 434.5h2M972 435.5h3M975 436.5h4M979 437.5h4M983 438.5h3M986 439.5h2M988 440.5h1M989 441.5h2M991 442.5h1M992 443.5h3M995 444.5h3M998 445.5h2M1000 446.5h2M1002 447.5h2M1004 448.5h3M1007 449.5h11M1018 450.5h2M1020 451.5h3M1023 452.5h8M1031 453.5h3M1034 454.5h2M1036 455.5h2M1038 456.5h2M1040 457.5h3M1043 458.5h3M1046 459.5h2M1048 460.5h2M1050 461.5h2M1052 462.5h1M1053 463.5h2M1055 464.5h1M1056 465.5h2M1058 466.5h2M1060 467.5h3M1063 468.5h3M1066 469.5h2M1068 470.5h3M1071 471.5h4M1075 472.5h4M1079 473.5h4M1083 474.5h4M1087 475.5h4M1091 476.5h4M1095 477.5h4M1099 478.5h4M1103 479.5h3M1106 480.5h2M1108 481.5h3M1111 482.5h8M1119 483.5h8M1127 484.5h3M1130 485.5h2M1132 486.5h3M1135 487.5h4M1139 488.5h4M1143 489.5h3M1146 490.5h2M1148 491.5h6M1154 492.5h2M1156 493.5h7M1163 494.5h8M1171 495.5h4M1175 496.5h4M1179 497.5h4M1183 498.5h4M1187 499.5h4M1191 500.5h8M1199 501.5h12M1211 502.5h8M1219 503.5h16M1235 504.5h16M1251 505.5h6" stroke="#0000cd" stroke-width="1" fill="none"/>
<path d="M306 83.5h21M304 84.5h2M327 84.5h2M302 85.5h2M329 85.5h2M300 86.5h2M331 86.5h1M298 87.5h2M332 87.5h1M296 88.5h2M333 88.5h2M295 89.5h1M335 89.5h1M293 90.5h2M336 90.5h1M292 91.5h1M337 91.5h1M291 92.5h1M338 92.5h1M289 93.5h2M339 93.5h1M288 94.5h1M340 94.5h1M287 95.5h1M341 95.5h1M286 96.5h1M342 96.5h1M260 97.5h2M286 97.5h1M343 97.5h1M258 98.5h2M262 98.5h2M284 98.5h2M344 98.5h1M256 99.5h2M264 99.5h3M282 99.5h2M345 99.5h1M254 100.5h2M267 100.5h4M275 100.5h7M346 100.5h1M252 101.5h2M271 101.5h4M346 101.5h1M108 102.5h8M250 102.5h2M347 102.5h1M106 103.5h2M116 103.5h3M247 103.5h3M348 103.5h1M105 104.5h1M119 104.5h2M243 104.5h4M349 104.5h1M103 105.5h2M121 105.5h1M239 105.5h4M350 105.5h1M101 106.5h2M122 106.5h2M224 106.5h15M351 106.5h1M100 107.5h1M124 107.5h2M222 107.5h2M352 107.5h1M100 108.5h1M126 108.5h2M219 108.5h3M353 108.5h2M99 109.5h1M128 109.5h2M216 109.5h3M355 109.5h1M99 110.5h1M130 110.5h2M214 110.5h2M356 110.5h1M98 111.5h1M132 111.5h1M212 111.5h2M357 111.5h1M98 112.5h1M133 112.5h2M211 112.5h1M358 112.5h1M96 113.5h2M135 113.5h1M209 113.5h2M359 113.5h1M94 114.5h2M136 114.5h2M208 114.5h1M360 114.5h1M93 115.5h1M138 115.5h2M207 115.5h1M361 115.5h2M91 116.5h2M140 116.5h2M205 116.5h2M363 116.5h1M89 117.5h2M142 117.5h2M203 117.5h2M364 117.5h2M88 118.5h1M144 118.5h2M199 118.5h4M366 118.5h2M87 119.5h1M146 119.5h2M196 119.5h3M368 119.5h6M87 120.5h1M148 120.5h3M194 120.5h2M374 120.5h2M86 121.5h1M151 121.5h4M192 121.5h2M376 121.5h1M86 122.5h1M155 122.5h4M190 122.5h2M377 122.5h2M403 122.5h12M85 123.5h1M159 123.5h3M188 123.5h2M379 123.5h1M399 123.5h4M415 123.5h4M85 124.5h1M162 124.5h2M186 124.5h2M380 124.5h7M395 124.5h4M419 124.5h4M84 125.5h1M164 125.5h3M183 125.5h3M387 125.5h8M423 125.5h7M83 126.5h1M167 126.5h4M179 126.5h4M430 126.5h2M83 127.5h1M171 127.5h8M432 127.5h1M82 128.5h1M433 128.5h2M82 129.5h1M435 129.5h1M81 130.5h1M436 130.5h1M81 131.5h1M437 131.5h2M80 132.5h1M439 132.5h1M79 133.5h1M440 133.5h1M79 134.5h1M441 134.5h2M78 135.5h1M443 135.5h1M77 136.5h1M444 136.5h1M76 137.5h1M445 137.5h2M76 138.5h1M447 138.5h1M75 139.5h1M448 139.5h1M74 140.5h1M449 140.5h2M74 141.5h1M451 141.5h1M73 142.5h1M452 142.5h1M73 143.5h1M453 143.5h1M72 144.5h1M454 144.5h1M72 145.5h1M455 145.5h1M71 146.5h1M456 146.5h1M71 147.5h1M457 147.5h2M70 148.5h1M459 148.5h1M70 149.5h1M460 149.5h1M69 150.5h1M461 150.5h2M69 151.5h1M463 151.5h1M68 152.5h1M464 152.5h1M68 153.5h1M465 153.5h1M68 154.5h1M466 154.5h1M67 155.5h1M467 155.5h1M67 156.5h1M468 156.5h1M66 157.5h1M469 157.5h2M66 158.5h1M471 158.5h1M65 159.5h1M472 159.5h1M65 160.5h1M473 160.5h2M64 161.5h1M475 161.5h1M64 162.5h1M476 162.5h1M63 163.5h1M477 163.5h1M63 164.5h1M478 164.5h1M63 165.5h1M479 165.5h1M62 166.5h1M480 166.5h2M4 167.5h2M62 167.5h1M482 167.5h2M6 168.5h2M61 168.5h1M484 168.5h3M499 168.5h19M8 169.5h2M61 169.5h1M487 169.5h12M518 169.5h2M10 170.5h1M61 170.5h1M520 170.5h12M11 171.5h1M60 171.5h1M532 171.5h3M12 172.5h1M60 172.5h1M535 172.5h3M13 173.5h1M59 173.5h1M538 173.5h2M14 174.5h1M59 174.5h1M540 174.5h2M15 175.5h1M58 175.5h1M542 175.5h2M16 176.5h1M58 176.5h1M544 176.5h3M17 177.5h1M57 177.5h1M547 177.5h2M18 178.5h1M57 178.5h1M549 178.5h2M19 179.5h1M56 179.5h1M551 179.5h1M20 180.5h1M56 180.5h1M552 180.5h1M21 181.5h1M55 181.5h1M553 181.5h1M22 182.5h1M55 182.5h1M554 182.5h1M23 183.5h1M54 183.5h1M555 183.5h1M24 184.5h1M53 184.5h1M556 184.5h1M25 185.5h2M53 185.5h1M557 185.5h2M27 186.5h1M52 186.5h1M559 186.5h1M28 187.5h1M50 187.5h2M560 187.5h2M29 188.5h1M47 188.5h3M562 188.5h2M30 189.5h2M43 189.5h4M564 189.5h1M32 190.5h11M565 190.5h1M566 191.5h1M567 192.5h1M568 193.5h2M570 194.5h2M572 195.5h1M573 196.5h2M575 197.5h1M576 198.5h1M577 199.5h2M579 200.5h1M580 201.5h1M581 202.5h2M583 203.5h1M584 204.5h1M585 205.5h2M587 206.5h1M588 207.5h7M595 208.5h2M597 209.5h2M599 210.5h1M600 211.5h1M601 212.5h2M603 213.5h1M604 214.5h1M605 215.5h1M606 216.5h1M607 217.5h1M608 218.5h2M610 219.5h2M612 220.5h1M613 221.5h2M615 222.5h1M616 223.5h1M617 224.5h2M619 225.5h1M620 226.5h1M621 227.5h1M622 228.5h1M623 229.5h1M624 230.5h1M625 231.5h1M626 232.5h1M626 233.5h1M627 234.5h1M628 235.5h1M629 236.5h1M630 237.5h1M630 238.5h1M631 239.5h1M632 240.5h2M634 241.5h2M636 242.5h1M637 243.5h2M639 244.5h1M640 245.5h1M641 246.5h2M643 247.5h1M644 248.5h1M645 249.5h1M646 250.5h1M647 251.5h1M648 252.5h1M649 253.5h2M651 254.5h1M652 255.5h1M653 256.5h1M654 257.5h1M655 258.5h1M656 259.5h1M657 260.5h2M659 261.5h1M660 262.5h2M662 263.5h2M664 264.5h2M666 265.5h2M668 266.5h1M669 267.5h2M671 268.5h1M672 269.5h1M673 270.5h1M674 271.5h1M675 272.5h1M676 273.5h1M677 274.5h1M678 275.5h1M679 276.5h1M680 277.5h2M682 278.5h2M684 279.5h1M685 280.5h2M687 281.5h1M688 282.5h2M690 283.5h2M692 284.5h1M693 285.5h2M695 286.5h1M696 287.5h2M698 288.5h2M700 289.5h6M706 290.5h2M708 291.5h11M719 292.5h8M727 293.5h4M731 294.5h4M735 295.5h8M743 296.5h3M746 297.5h2M748 298.5h1M748 299.5h1M748 300.5h3M751 301.5h2M753 302.5h2M755 303.5h1M756 304.5h1M757 305.5h1M757 306.5h1M758 307.5h1M759 308.5h1M759 309.5h1M760 310.5h1M761 311.5h1M761 312.5h1M762 313.5h1M763 314.5h1M763 315.5h1M764 316.5h1M765 317.5h1M766 318.5h1M767 319.5h1M768 320.5h1M769 321.5h1M770 322.5h1M771 323.5h1M772 324.5h1M773 325.5h1M774 326.5h1M774 327.5h1M775 328.5h1M776 329.5h1M777 330.5h1M778 331.5h1M778 332.5h1M779 333.5h1M780 334.5h1M781 335.5h2M783 336.5h1M784 337.5h2M786 338.5h2M788 339.5h1M789 340.5h1M790 341.5h1M791 342.5h1M792 343.5h1M793 344.5h1M794 345.5h1M795 346.5h1M796 347.5h1M797 348.5h2M799 349.5h1M800 350.5h1M801 351.5h1M802 352.5h1M803 353.5h1M804 354.5h1M805 355.5h2M807 356.5h1M808 357.5h1M809 358.5h2M811 359.5h1M815 359.5h12M812 360.5h3M827 360.5h4M831 361.5h8M839 362.5h8M847 363.5h3M850 364.5h2M852 365.5h1M853 366.5h2M855 367.5h1M856 368.5h1M857 369.5h1M858 370.5h1M859 371.5h1M860 372.5h3M863 373.5h3M866 374.5h1M867 375.5h1M868 376.5h1M869 377.5h1M870 378.5h1M871 379.5h1M872 380.5h1M873 381.5h1M874 382.5h1M874 383.5h1M875 384.5h1M876 385.5h1M877 386.5h1M878 387.5h1M878 388.5h1M879 389.5h1M880 390.5h1M881 391.5h1M882 392.5h1M882 393.5h1M883 394.5h1M884 395.5h1M885 396.5h1M885 397.5h1M886 398.5h1M887 399.5h1M887 400.5h1M888 401.5h1M889 402.5h1M889 403.5h1M890 404.5h1M891 405.5h1M891 406.5h1M892 407.5h1M893 408.5h1M894 409.5h1M894 410.5h1M895 411.5h1M896 412.5h1M897 413.5h1M898 414.5h1M898 415.5h1M899 416.5h1M900 417.5h1M901 418.5h2M903 419.5h1M904 420.5h1M905 421.5h2M907 422.5h1M908 423.5h10M918 424.5h2M920 425.5h2M922 426.5h2M924 427.5h2M926 428.5h2M928 429.5h3M931 430.5h4M935 431.5h3M938 432.5h2M940 433.5h2M942 434.5h2M944 435.5h3M947 436.5h3M950 437.5h2M952 438.5h1M953 439.5h2M955 440.5h1M956 441.5h2M958 442.5h2M960 443.5h2M962 444.5h2M964 445.5h2M966 446.5h2M968 447.5h3M971 448.5h3M974 449.5h2M976 450.5h3M979 451.5h3M982 452.5h2M984 453.5h3M987 454.5h2M989 455.5h1M990 456.5h1M991 457.5h1M992 458.5h2M1015 458.5h8M994 459.5h2M1012 459.5h3M1023 459.5h4M996 460.5h3M1010 460.5h2M1027 460.5h3M999 461.5h4M1007 461.5h3M1030 461.5h3M1003 462.5h4M1033 462.5h2M1035 463.5h4M1039 464.5h4M1043 465.5h6M1049 466.5h2M1051 467.5h1M1052 468.5h1M1053 469.5h2M1055 470.5h1M1056 471.5h1M1057 472.5h1M1058 473.5h1M1059 474.5h1M1060 475.5h2M1062 476.5h2M1064 477.5h1M1065 478.5h1M1066 479.5h1M1067 480.5h1M1068 481.5h1M1069 482.5h2M1071 483.5h1M1072 484.5h3M1075 485.5h2M1077 486.5h2M1079 487.5h1M1135 487.5h4M1080 488.5h1M1132 488.5h3M1139 488.5h4M1081 489.5h2M1130 489.5h2M1143 489.5h4M1083 490.5h1M1123 490.5h7M1147 490.5h3M1084 491.5h3M1119 491.5h4M1150 491.5h2M1087 492.5h3M1116 492.5h3M1152 492.5h3M1090 493.5h2M1114 493.5h2M1155 493.5h12M1092 494.5h7M1111 494.5h3M1167 494.5h4M1099 495.5h4M1107 495.5h4M1171 495.5h2M1103 496.5h4M1173 496.5h2M1256 496.5h1M1175 497.5h1M1254 497.5h2M1176 498.5h1M1252 498.5h2M1177 499.5h2M1251 499.5h1M1179 500.5h1M1249 500.5h2M1180 501.5h1M1248 501.5h1M1181 502.5h2M1246 502.5h2M1183 503.5h1M1244 503.5h2M1184 504.5h1M1243 504.5h1M1185 505.5h2M1241 505.5h2M1187 506.5h1M1240 506.5h1M1188 507.5h2M1239 507.5h1M1190 508.5h2M1237 508.5h2M1192 509.5h2M1236 509.5h1M1194 510.5h2M1234 510.5h2M1196 511.5h3M1231 511.5h3M1199 512.5h4M1228 512.5h3M1203 513.5h4M1226 513.5h2M1207 514.5h19" stroke="#ff0000" stroke-width="1" fill="none"/>
<path d="M304 70.5h6M302 71.5h2M310 71.5h2M300 72.5h2M312 72.5h1M298 73.5h2M312 73.5h1M296 74.5h2M313 74.5h1M295 75.5h1M313 75.5h1M294 76.5h1M314 76.5h1M294 77.5h1M314 77.5h1M293 78.5h1M315 78.5h1M292 79.5h1M315 79.5h1M291 80.5h1M316 80.5h1M290 81.5h1M317 81.5h1M290 82.5h1M317 82.5h1M289 83.5h1M318 83.5h1M288 84.5h1M319 84.5h1M287 85.5h1M319 85.5h1M287 86.5h1M320 86.5h1M286 87.5h1M321 87.5h1M286 88.5h1M321 88.5h1M285 89.5h1M322 89.5h1M224 90.5h1M284 90.5h1M322 90.5h1M223 91.5h1M225 91.5h2M283 91.5h1M323 91.5h1M222 92.5h1M227 92.5h1M282 92.5h1M323 92.5h1M74 93.5h4M221 93.5h1M228 93.5h1M281 93.5h1M324 93.5h1M72 94.5h2M78 94.5h2M220 94.5h1M229 94.5h1M264 94.5h6M280 94.5h1M324 94.5h1M72 95.5h1M80 95.5h1M219 95.5h1M229 95.5h1M262 95.5h2M270 95.5h2M278 95.5h2M325 95.5h1M71 96.5h1M80 96.5h1M219 96.5h1M230 96.5h1M260 96.5h2M272 96.5h6M325 96.5h1M71 97.5h1M81 97.5h1M218 97.5h1M230 97.5h1M259 97.5h1M326 97.5h1M71 98.5h1M82 98.5h1M217 98.5h1M231 98.5h1M257 98.5h2M326 98.5h1M70 99.5h1M82 99.5h1M217 99.5h1M231 99.5h1M256 99.5h1M327 99.5h1M70 100.5h1M83 100.5h1M216 100.5h1M232 100.5h1M255 100.5h1M327 100.5h1M69 101.5h1M84 101.5h1M215 101.5h1M233 101.5h1M254 101.5h1M328 101.5h1M69 102.5h1M85 102.5h2M215 102.5h1M234 102.5h1M254 102.5h1M328 102.5h1M69 103.5h1M87 103.5h1M214 103.5h1M235 103.5h1M253 103.5h1M329 103.5h1M68 104.5h1M88 104.5h1M120 104.5h1M213 104.5h1M236 104.5h3M252 104.5h1M329 104.5h1M68 105.5h1M89 105.5h1M96 105.5h1M112 105.5h2M119 105.5h1M121 105.5h1M213 105.5h1M239 105.5h2M251 105.5h1M330 105.5h1M68 106.5h1M90 106.5h1M95 106.5h1M97 106.5h1M111 106.5h1M114 106.5h2M117 106.5h2M121 106.5h1M212 106.5h1M241 106.5h1M250 106.5h1M330 106.5h1M67 107.5h1M91 107.5h1M93 107.5h2M98 107.5h1M105 107.5h2M109 107.5h2M116 107.5h1M122 107.5h1M211 107.5h1M242 107.5h1M249 107.5h1M330 107.5h1M67 108.5h1M92 108.5h1M98 108.5h1M103 108.5h2M107 108.5h2M123 108.5h1M211 108.5h1M243 108.5h1M247 108.5h2M331 108.5h1M67 109.5h1M99 109.5h1M101 109.5h2M123 109.5h1M210 109.5h1M244 109.5h3M331 109.5h1M67 110.5h1M100 110.5h1M124 110.5h1M210 110.5h1M332 110.5h1M66 111.5h1M125 111.5h1M187 111.5h7M209 111.5h1M332 111.5h1M66 112.5h1M126 112.5h1M184 112.5h3M194 112.5h2M209 112.5h1M333 112.5h1M66 113.5h1M126 113.5h1M183 113.5h1M196 113.5h2M208 113.5h1M333 113.5h1M66 114.5h1M127 114.5h1M176 114.5h3M181 114.5h2M198 114.5h2M207 114.5h1M334 114.5h1M65 115.5h1M128 115.5h1M175 115.5h1M179 115.5h2M200 115.5h2M206 115.5h1M334 115.5h1M65 116.5h1M129 116.5h1M173 116.5h2M202 116.5h2M205 116.5h1M335 116.5h1M65 117.5h1M129 117.5h1M172 117.5h1M204 117.5h1M335 117.5h1M65 118.5h1M130 118.5h1M171 118.5h1M336 118.5h1M64 119.5h1M131 119.5h1M170 119.5h1M337 119.5h1M368 119.5h7M64 120.5h1M131 120.5h1M169 120.5h1M337 120.5h1M367 120.5h1M375 120.5h3M408 120.5h6M64 121.5h1M132 121.5h1M168 121.5h1M338 121.5h1M365 121.5h2M378 121.5h2M407 121.5h1M414 121.5h2M63 122.5h1M132 122.5h1M167 122.5h1M339 122.5h1M364 122.5h1M380 122.5h2M405 122.5h2M416 122.5h1M63 123.5h1M133 123.5h1M166 123.5h1M339 123.5h1M363 123.5h1M382 123.5h2M404 123.5h1M417 123.5h2M63 124.5h1M133 124.5h1M165 124.5h1M340 124.5h1M361 124.5h2M384 124.5h1M403 124.5h1M419 124.5h1M63 125.5h1M134 125.5h1M164 125.5h1M341 125.5h1M359 125.5h2M385 125.5h2M401 125.5h2M420 125.5h2M62 126.5h1M134 126.5h1M163 126.5h1M342 126.5h1M356 126.5h3M387 126.5h1M395 126.5h6M422 126.5h2M62 127.5h1M135 127.5h1M161 127.5h2M342 127.5h1M354 127.5h2M388 127.5h7M424 127.5h2M62 128.5h1M135 128.5h1M160 128.5h1M343 128.5h1M351 128.5h3M426 128.5h2M61 129.5h1M136 129.5h1M159 129.5h1M344 129.5h7M428 129.5h1M61 130.5h1M136 130.5h1M158 130.5h1M429 130.5h1M61 131.5h1M137 131.5h1M157 131.5h1M429 131.5h1M60 132.5h1M137 132.5h1M156 132.5h1M430 132.5h1M60 133.5h1M138 133.5h1M155 133.5h1M431 133.5h1M60 134.5h1M139 134.5h1M154 134.5h1M431 134.5h1M60 135.5h1M139 135.5h1M154 135.5h1M432 135.5h1M59 136.5h1M140 136.5h5M153 136.5h1M433 136.5h1M59 137.5h1M145 137.5h2M152 137.5h1M433 137.5h1M59 138.5h1M147 138.5h1M150 138.5h2M434 138.5h1M58 139.5h1M148 139.5h2M434 139.5h1M58 140.5h1M435 140.5h1M58 141.5h1M435 141.5h1M57 142.5h1M436 142.5h1M57 143.5h1M436 143.5h1M57 144.5h1M437 144.5h1M56 145.5h1M437 145.5h1M56 146.5h1M438 146.5h1M56 147.5h1M438 147.5h1M55 148.5h1M439 148.5h1M55 149.5h1M439 149.5h1M54 150.5h1M440 150.5h1M54 151.5h1M440 151.5h1M53 152.5h1M441 152.5h1M53 153.5h1M441 153.5h1M52 154.5h1M442 154.5h1M52 155.5h1M442 155.5h1M51 156.5h1M443 156.5h1M51 157.5h1M443 157.5h1M50 158.5h1M444 158.5h1M50 159.5h1M445 159.5h1M49 160.5h1M445 160.5h1M49 161.5h1M446 161.5h1M48 162.5h1M447 162.5h1M47 163.5h1M447 163.5h1M504 163.5h10M47 164.5h1M448 164.5h2M502 164.5h2M514 164.5h2M46 165.5h1M450 165.5h2M500 165.5h2M516 165.5h1M46 166.5h1M452 166.5h3M499 166.5h1M517 166.5h1M45 167.5h1M455 167.5h8M498 167.5h1M518 167.5h1M45 168.5h1M463 168.5h2M498 168.5h1M518 168.5h1M44 169.5h1M465 169.5h2M497 169.5h1M519 169.5h1M43 170.5h1M467 170.5h1M496 170.5h1M520 170.5h3M43 171.5h1M468 171.5h2M495 171.5h1M523 171.5h3M42 172.5h1M470 172.5h2M494 172.5h1M526 172.5h2M42 173.5h1M472 173.5h3M493 173.5h1M528 173.5h1M41 174.5h1M475 174.5h4M491 174.5h2M529 174.5h2M41 175.5h1M479 175.5h3M488 175.5h3M531 175.5h1M40 176.5h1M482 176.5h2M486 176.5h2M532 176.5h1M40 177.5h1M484 177.5h2M533 177.5h1M40 178.5h1M533 178.5h1M39 179.5h1M534 179.5h1M39 180.5h1M534 180.5h1M39 181.5h1M535 181.5h1M38 182.5h1M535 182.5h1M38 183.5h1M536 183.5h1M4 184.5h1M38 184.5h1M537 184.5h1M4 185.5h1M38 185.5h1M537 185.5h1M5 186.5h1M37 186.5h1M538 186.5h1M5 187.5h1M37 187.5h1M539 187.5h1M5 188.5h1M37 188.5h1M539 188.5h1M6 189.5h1M36 189.5h1M540 189.5h1M6 190.5h1M36 190.5h1M541 190.5h1M6 191.5h1M36 191.5h1M542 191.5h1M7 192.5h1M35 192.5h1M543 192.5h1M7 193.5h1M35 193.5h1M544 193.5h3M8 194.5h1M35 194.5h1M547 194.5h3M8 195.5h1M34 195.5h1M550 195.5h2M555 195.5h3M9 196.5h1M34 196.5h1M552 196.5h3M558 196.5h2M9 197.5h1M33 197.5h1M560 197.5h1M10 198.5h1M33 198.5h1M561 198.5h2M11 199.5h1M33 199.5h1M563 199.5h1M11 200.5h1M32 200.5h1M564 200.5h1M12 201.5h1M32 201.5h1M565 201.5h2M13 202.5h1M31 202.5h1M567 202.5h1M13 203.5h1M29 203.5h2M568 203.5h2M14 204.5h1M28 204.5h1M570 204.5h2M15 205.5h1M27 205.5h1M572 205.5h2M15 206.5h1M26 206.5h1M574 206.5h2M16 207.5h2M26 207.5h1M576 207.5h1M18 208.5h2M25 208.5h1M577 208.5h1M20 209.5h5M578 209.5h1M579 210.5h1M580 211.5h1M581 212.5h1M582 213.5h1M583 214.5h1M584 215.5h1M585 216.5h2M587 217.5h1M588 218.5h1M589 219.5h2M591 220.5h1M592 221.5h3M595 222.5h11M606 223.5h2M608 224.5h1M609 225.5h1M609 226.5h1M610 227.5h1M611 228.5h1M611 229.5h1M612 230.5h1M612 231.5h1M613 232.5h1M613 233.5h1M614 234.5h1M614 235.5h1M615 236.5h1M615 237.5h1M616 238.5h1M616 239.5h1M617 240.5h1M618 241.5h1M619 242.5h1M620 243.5h1M621 244.5h1M621 245.5h1M622 246.5h1M622 247.5h1M623 248.5h1M623 249.5h1M624 250.5h1M624 251.5h1M625 252.5h1M625 253.5h1M626 254.5h1M626 255.5h1M627 256.5h1M627 257.5h1M628 258.5h1M629 259.5h1M630 260.5h1M630 261.5h1M631 262.5h1M632 263.5h2M634 264.5h2M636 265.5h2M638 266.5h2M651 266.5h4M640 267.5h3M647 267.5h4M655 267.5h3M643 268.5h4M658 268.5h2M660 269.5h3M667 269.5h2M663 270.5h4M669 270.5h2M671 271.5h1M672 272.5h1M672 273.5h1M673 274.5h1M673 275.5h1M720 275.5h3M674 276.5h1M719 276.5h1M723 276.5h2M674 277.5h1M717 277.5h2M725 277.5h1M675 278.5h1M716 278.5h1M726 278.5h1M675 279.5h1M715 279.5h1M727 279.5h1M676 280.5h1M714 280.5h1M728 280.5h1M676 281.5h1M713 281.5h1M728 281.5h1M676 282.5h1M712 282.5h1M729 282.5h1M677 283.5h1M711 283.5h1M729 283.5h1M677 284.5h1M711 284.5h1M730 284.5h1M677 285.5h1M710 285.5h1M730 285.5h1M678 286.5h1M710 286.5h1M730 286.5h1M678 287.5h1M709 287.5h1M731 287.5h1M678 288.5h1M709 288.5h1M731 288.5h1M679 289.5h1M708 289.5h1M732 289.5h1M679 290.5h1M707 290.5h1M732 290.5h1M679 291.5h1M707 291.5h1M732 291.5h1M680 292.5h1M706 292.5h1M733 292.5h1M680 293.5h1M706 293.5h1M733 293.5h1M681 294.5h1M705 294.5h1M733 294.5h1M681 295.5h1M705 295.5h1M733 295.5h1M682 296.5h1M704 296.5h1M734 296.5h1M682 297.5h1M703 297.5h1M734 297.5h1M683 298.5h1M703 298.5h1M734 298.5h1M683 299.5h1M702 299.5h1M735 299.5h1M684 300.5h1M702 300.5h1M735 300.5h1M684 301.5h1M701 301.5h1M736 301.5h1M685 302.5h1M701 302.5h1M736 302.5h1M685 303.5h1M700 303.5h1M737 303.5h1M686 304.5h1M700 304.5h1M737 304.5h1M686 305.5h1M699 305.5h1M738 305.5h1M687 306.5h1M698 306.5h1M739 306.5h1M687 307.5h1M697 307.5h1M739 307.5h1M688 308.5h1M696 308.5h1M740 308.5h1M688 309.5h1M695 309.5h1M740 309.5h1M689 310.5h2M694 310.5h1M741 310.5h1M691 311.5h1M693 311.5h1M741 311.5h1M692 312.5h1M741 312.5h1M742 313.5h1M742 314.5h1M742 315.5h1M743 316.5h1M743 317.5h1M743 318.5h1M744 319.5h1M744 320.5h1M745 321.5h1M745 322.5h1M746 323.5h1M746 324.5h1M747 325.5h1M747 326.5h1M748 327.5h2M750 328.5h2M752 329.5h1M753 330.5h2M755 331.5h1M756 332.5h1M756 333.5h1M757 334.5h1M757 335.5h1M758 336.5h1M758 337.5h1M759 338.5h1M759 339.5h1M760 340.5h1M761 341.5h1M780 341.5h5M762 342.5h1M771 342.5h3M779 342.5h1M785 342.5h1M763 343.5h1M767 343.5h4M774 343.5h2M777 343.5h2M785 343.5h1M764 344.5h3M776 344.5h1M786 344.5h1M787 345.5h1M787 346.5h1M788 347.5h1M832 347.5h3M788 348.5h1M831 348.5h1M835 348.5h4M789 349.5h1M830 349.5h1M839 349.5h2M789 350.5h1M829 350.5h1M841 350.5h1M790 351.5h1M828 351.5h1M841 351.5h1M790 352.5h1M827 352.5h1M842 352.5h1M791 353.5h1M826 353.5h1M843 353.5h1M791 354.5h1M826 354.5h1M843 354.5h1M792 355.5h1M825 355.5h1M844 355.5h1M792 356.5h1M824 356.5h1M844 356.5h1M793 357.5h1M823 357.5h1M845 357.5h1M793 358.5h1M823 358.5h1M845 358.5h1M794 359.5h1M822 359.5h1M846 359.5h1M794 360.5h1M822 360.5h1M846 360.5h1M795 361.5h1M821 361.5h1M847 361.5h1M795 362.5h1M821 362.5h1M847 362.5h1M796 363.5h1M820 363.5h1M848 363.5h1M796 364.5h1M820 364.5h1M848 364.5h1M797 365.5h1M819 365.5h1M849 365.5h1M797 366.5h1M819 366.5h1M849 366.5h1M798 367.5h1M818 367.5h1M849 367.5h1M799 368.5h1M818 368.5h1M850 368.5h1M799 369.5h1M818 369.5h1M850 369.5h1M800 370.5h1M817 370.5h1M851 370.5h1M801 371.5h2M817 371.5h1M851 371.5h1M803 372.5h1M816 372.5h1M851 372.5h1M804 373.5h1M816 373.5h1M852 373.5h1M805 374.5h2M815 374.5h1M852 374.5h1M807 375.5h1M814 375.5h1M852 375.5h1M808 376.5h3M813 376.5h1M853 376.5h1M811 377.5h2M853 377.5h1M853 378.5h1M854 379.5h1M854 380.5h1M854 381.5h1M854 382.5h1M855 383.5h1M855 384.5h1M855 385.5h1M856 386.5h1M856 387.5h1M856 388.5h1M857 389.5h1M857 390.5h1M857 391.5h1M858 392.5h1M858 393.5h1M858 394.5h1M859 395.5h1M859 396.5h1M859 397.5h1M860 398.5h1M860 399.5h1M860 400.5h1M861 401.5h1M861 402.5h1M862 403.5h1M862 404.5h1M863 405.5h1M863 406.5h1M864 407.5h1M880 407.5h2M865 408.5h1M878 408.5h2M882 408.5h2M866 409.5h1M876 409.5h2M884 409.5h1M866 410.5h1M874 410.5h2M885 410.5h1M867 411.5h1M871 411.5h3M885 411.5h1M868 412.5h3M886 412.5h1M887 413.5h1M887 414.5h1M888 415.5h1M888 416.5h1M889 417.5h1M889 418.5h1M890 419.5h1M890 420.5h1M891 421.5h1M891 422.5h1M892 423.5h1M893 424.5h1M894 425.5h1M894 426.5h1M895 427.5h1M896 428.5h1M897 429.5h1M927 429.5h3M898 430.5h1M924 430.5h3M930 430.5h2M899 431.5h1M922 431.5h2M932 431.5h3M900 432.5h1M919 432.5h3M935 432.5h3M901 433.5h1M916 433.5h3M938 433.5h2M902 434.5h1M915 434.5h1M940 434.5h2M903 435.5h1M913 435.5h2M942 435.5h2M904 436.5h1M912 436.5h1M944 436.5h1M905 437.5h2M911 437.5h1M945 437.5h1M907 438.5h1M909 438.5h2M946 438.5h1M908 439.5h1M947 439.5h1M948 440.5h1M948 441.5h1M949 442.5h1M949 443.5h1M950 444.5h1M950 445.5h1M951 446.5h1M951 447.5h1M952 448.5h1M953 449.5h1M953 450.5h1M954 451.5h1M954 452.5h1M955 453.5h1M955 454.5h1M984 454.5h5M956 455.5h1M982 455.5h2M989 455.5h1M957 456.5h1M980 456.5h2M990 456.5h1M957 457.5h1M979 457.5h1M991 457.5h1M958 458.5h1M977 458.5h2M992 458.5h1M1019 458.5h4M958 459.5h1M976 459.5h1M993 459.5h2M1012 459.5h7M1023 459.5h8M959 460.5h1M975 460.5h1M995 460.5h1M1011 460.5h1M1031 460.5h2M959 461.5h1M973 461.5h2M996 461.5h1M1010 461.5h1M1033 461.5h1M960 462.5h2M972 462.5h1M997 462.5h2M1010 462.5h1M1034 462.5h1M962 463.5h2M970 463.5h2M999 463.5h1M1009 463.5h1M1034 463.5h1M964 464.5h6M1000 464.5h9M1035 464.5h1M1036 465.5h2M1038 466.5h2M1040 467.5h1M1041 468.5h2M1043 469.5h1M1044 470.5h1M1045 471.5h1M1046 472.5h1M1046 473.5h1M1047 474.5h1M1048 475.5h1M1049 476.5h1M1049 477.5h1M1050 478.5h1M1050 479.5h1M1051 480.5h1M1051 481.5h1M1052 482.5h1M1052 483.5h1M1132 483.5h2M1053 484.5h1M1131 484.5h1M1134 484.5h2M1053 485.5h1M1129 485.5h2M1136 485.5h1M1054 486.5h1M1127 486.5h2M1137 486.5h1M1054 487.5h1M1103 487.5h4M1123 487.5h4M1137 487.5h1M1055 488.5h1M1100 488.5h3M1107 488.5h4M1119 488.5h4M1138 488.5h1M1055 489.5h1M1099 489.5h1M1111 489.5h8M1139 489.5h1M1056 490.5h1M1098 490.5h1M1139 490.5h1M1057 491.5h1M1097 491.5h1M1140 491.5h1M1248 491.5h9M1058 492.5h1M1096 492.5h1M1141 492.5h1M1247 492.5h1M1058 493.5h1M1094 493.5h2M1142 493.5h1M1246 493.5h1M1059 494.5h1M1092 494.5h2M1142 494.5h1M1245 494.5h1M1060 495.5h1M1090 495.5h2M1143 495.5h1M1164 495.5h2M1240 495.5h5M1061 496.5h1M1087 496.5h3M1144 496.5h5M1162 496.5h2M1166 496.5h2M1238 496.5h2M1062 497.5h1M1079 497.5h8M1149 497.5h1M1160 497.5h2M1168 497.5h1M1236 497.5h2M1062 498.5h1M1076 498.5h3M1150 498.5h1M1159 498.5h1M1169 498.5h2M1223 498.5h4M1234 498.5h2M1063 499.5h1M1075 499.5h1M1151 499.5h1M1157 499.5h2M1171 499.5h1M1220 499.5h3M1227 499.5h7M1064 500.5h1M1073 500.5h2M1152 500.5h5M1172 500.5h1M1219 500.5h1M1065 501.5h2M1072 501.5h1M1172 501.5h1M1219 501.5h1M1067 502.5h1M1070 502.5h2M1173 502.5h1M1218 502.5h1M1068 503.5h2M1173 503.5h1M1217 503.5h1M1174 504.5h1M1217 504.5h1M1174 505.5h1M1216 505.5h1M1175 506.5h1M1215 506.5h1M1175 507.5h1M1215 507.5h1M1176 508.5h1M1214 508.5h1M1177 509.5h1M1214 509.5h1M1177 510.5h1M1213 510.5h1M1178 511.5h1M1213 511.5h1M1179 512.5h1M1212 512.5h1M1179 513.5h1M1211 513.5h1M1180 514.5h1M1210 514.5h1M1181 515.5h1M1210 515.5h1M1182 516.5h1M1209 516.5h1M1182 517.5h1M1208 517.5h1M1183 518.5h1M1207 518.5h1M1184 519.5h1M1207 519.5h1M1185 520.5h2M1206 520.5h1M1187 521.5h1M1206 521.5h1M1188 522.5h2M1205 522.5h1M1190 523.5h2M1205 523.5h1M1192 524.5h2M1204 524.5h1M1194 525.5h2M1202 525.5h2M1196 526.5h6" stroke="#ffa500" stroke-width="1" fill="none"/>
<rect x="4" y="168" width="1578" height="2" fill="#ff0000"/>
<rect x="4" y="236" width="1578" height="2" fill="#ff0000"/>
<rect x="4" y="314" width="1578" height="2" fill="#ff0000"/>
<rect x="4" y="397" width="1578" height="2" fill="#ff0000"/>
<rect x="4" y="462" width="1578" height="2" fill="#00ff00"/>
<rect x="4" y="536" width="1578" height="2" fill="#0000ff"/>
<rect x="1259" y="24" width="9" height="1" fill="#c0c0c0"/>
<rect x="1260" y="25" width="7" height="1" fill="#c0c0c0"/>
<rect x="1261" y="26" width="5" height="1" fill="#c0c0c0"/>
<rect x="1262" y="27" width="3" height="1" fill="#c0c0c0"/>
<rect x="1263" y="28" width="1" height="1" fill="#c0c0c0"/>
<rect x="7" y="30" width="7" height="1" fill="#000"/>
<rect x="8" y="31" width="5" height="1" fill="#000"/>
<rect x="9" y="32" width="3" height="1" fill="#000"/>
<rect x="10" y="33" width="1" height="1" fill="#000"/>
<text x="18.7" y="35" font-size="10" fill="#000" stroke="#000" textLength="66" lengthAdjust="spacing">USDCNH,Daily</text>
<text x="90.8" y="35" font-size="10" fill="#000" stroke="#000" textLength="141.5" lengthAdjust="spacing">6.46988 6.47971 6.46794 6.47690</text>
<line x1="5" y1="582.5" x2="1580" y2="582.5" stroke="#c0c0c0" stroke-width="1" stroke-dasharray="3 3"/>
<line x1="5" y1="619.5" x2="1580" y2="619.5" stroke="#c0c0c0" stroke-width="1" stroke-dasharray="3 3"/>
<path d="M60 579.5h1M59 580.5h1M61 580.5h2M59 581.5h1M63 581.5h1M58 582.5h1M64 582.5h9M296 582.5h1M57 583.5h1M72 583.5h1M295 583.5h2M57 584.5h1M73 584.5h1M295 584.5h1M297 584.5h1M56 585.5h1M73 585.5h1M294 585.5h1M297 585.5h1M55 586.5h1M73 586.5h1M294 586.5h1M297 586.5h1M36 587.5h1M55 587.5h1M74 587.5h1M80 587.5h1M293 587.5h1M298 587.5h1M36 588.5h3M54 588.5h1M74 588.5h1M79 588.5h2M211 588.5h4M293 588.5h1M298 588.5h1M36 589.5h1M39 589.5h1M54 589.5h1M75 589.5h1M79 589.5h1M81 589.5h1M208 589.5h3M215 589.5h2M292 589.5h1M299 589.5h1M35 590.5h1M40 590.5h5M53 590.5h1M75 590.5h1M78 590.5h1M81 590.5h1M208 590.5h1M217 590.5h1M280 590.5h3M287 590.5h6M299 590.5h1M35 591.5h1M44 591.5h1M53 591.5h1M75 591.5h1M77 591.5h1M82 591.5h1M207 591.5h1M218 591.5h1M279 591.5h1M283 591.5h4M299 591.5h1M304 591.5h1M35 592.5h1M45 592.5h1M52 592.5h1M76 592.5h2M82 592.5h1M88 592.5h1M96 592.5h1M207 592.5h1M218 592.5h1M224 592.5h1M256 592.5h5M278 592.5h1M300 592.5h1M302 592.5h2M305 592.5h2M35 593.5h1M45 593.5h1M51 593.5h1M76 593.5h1M83 593.5h1M87 593.5h1M89 593.5h2M95 593.5h1M97 593.5h1M207 593.5h1M219 593.5h1M222 593.5h3M255 593.5h1M261 593.5h1M277 593.5h1M300 593.5h2M307 593.5h1M1239 593.5h2M34 594.5h1M46 594.5h1M51 594.5h1M83 594.5h1M85 594.5h2M91 594.5h1M93 594.5h2M98 594.5h1M104 594.5h1M112 594.5h3M172 594.5h5M206 594.5h1M220 594.5h2M225 594.5h1M253 594.5h2M262 594.5h1M276 594.5h1M308 594.5h1M1236 594.5h3M1241 594.5h1M34 595.5h1M46 595.5h1M50 595.5h1M84 595.5h1M92 595.5h1M98 595.5h1M103 595.5h1M105 595.5h2M111 595.5h1M115 595.5h4M171 595.5h1M177 595.5h1M206 595.5h1M225 595.5h1M252 595.5h1M263 595.5h1M275 595.5h1M309 595.5h1M1220 595.5h1M1235 595.5h1M1241 595.5h1M34 596.5h1M47 596.5h1M49 596.5h1M99 596.5h1M101 596.5h2M107 596.5h1M109 596.5h2M119 596.5h2M170 596.5h1M178 596.5h1M184 596.5h7M206 596.5h1M226 596.5h1M250 596.5h2M264 596.5h1M275 596.5h1M310 596.5h1M1208 596.5h1M1219 596.5h1M1221 596.5h1M1234 596.5h1M1242 596.5h1M1248 596.5h2M1256 596.5h1M34 597.5h1M47 597.5h1M49 597.5h1M100 597.5h1M108 597.5h1M121 597.5h1M156 597.5h3M169 597.5h1M179 597.5h1M182 597.5h2M191 597.5h3M206 597.5h1M226 597.5h1M240 597.5h1M248 597.5h2M265 597.5h2M274 597.5h1M310 597.5h1M1207 597.5h1M1209 597.5h1M1217 597.5h2M1222 597.5h1M1234 597.5h1M1243 597.5h1M1247 597.5h1M1250 597.5h2M1254 597.5h2M33 598.5h1M48 598.5h1M121 598.5h1M154 598.5h2M159 598.5h10M180 598.5h2M194 598.5h2M205 598.5h1M227 598.5h1M238 598.5h2M241 598.5h2M247 598.5h1M267 598.5h1M274 598.5h1M311 598.5h1M1119 598.5h3M1207 598.5h1M1210 598.5h1M1216 598.5h1M1223 598.5h1M1233 598.5h1M1243 598.5h1M1245 598.5h2M1252 598.5h2M33 599.5h1M122 599.5h1M152 599.5h2M196 599.5h3M205 599.5h1M227 599.5h1M236 599.5h2M243 599.5h1M245 599.5h2M268 599.5h2M273 599.5h1M312 599.5h1M496 599.5h2M824 599.5h3M1100 599.5h1M1116 599.5h3M1122 599.5h2M1132 599.5h1M1206 599.5h1M1211 599.5h1M1214 599.5h2M1224 599.5h2M1232 599.5h1M1244 599.5h1M33 600.5h1M122 600.5h1M151 600.5h1M199 600.5h3M205 600.5h1M228 600.5h1M235 600.5h1M244 600.5h1M270 600.5h2M273 600.5h1M313 600.5h1M496 600.5h1M498 600.5h2M708 600.5h7M823 600.5h1M827 600.5h2M1099 600.5h1M1101 600.5h1M1115 600.5h1M1124 600.5h1M1131 600.5h1M1133 600.5h1M1205 600.5h1M1212 600.5h2M1226 600.5h2M1230 600.5h2M33 601.5h1M123 601.5h1M128 601.5h2M150 601.5h1M202 601.5h3M229 601.5h2M234 601.5h1M272 601.5h1M314 601.5h1M400 601.5h5M495 601.5h1M500 601.5h1M707 601.5h1M715 601.5h2M822 601.5h1M829 601.5h1M1098 601.5h1M1101 601.5h1M1115 601.5h1M1125 601.5h1M1131 601.5h1M1134 601.5h1M1160 601.5h1M1205 601.5h1M1228 601.5h2M32 602.5h1M123 602.5h1M126 602.5h2M130 602.5h2M144 602.5h2M150 602.5h1M204 602.5h1M231 602.5h1M233 602.5h1M314 602.5h1M398 602.5h2M405 602.5h2M495 602.5h1M501 602.5h1M706 602.5h1M717 602.5h1M724 602.5h1M822 602.5h1M830 602.5h1M1097 602.5h1M1102 602.5h1M1114 602.5h1M1125 602.5h1M1130 602.5h1M1134 602.5h1M1148 602.5h1M1159 602.5h1M1161 602.5h2M1204 602.5h1M28 603.5h3M32 603.5h1M124 603.5h2M132 603.5h3M142 603.5h2M146 603.5h2M149 603.5h1M232 603.5h1M315 603.5h1M319 603.5h4M396 603.5h2M407 603.5h1M494 603.5h1M501 603.5h1M516 603.5h1M705 603.5h1M718 603.5h1M723 603.5h2M821 603.5h1M830 603.5h1M1011 603.5h2M1028 603.5h1M1095 603.5h2M1103 603.5h1M1114 603.5h1M1126 603.5h1M1130 603.5h1M1135 603.5h1M1147 603.5h1M1149 603.5h2M1158 603.5h1M1163 603.5h1M1203 603.5h1M27 604.5h1M31 604.5h2M135 604.5h7M148 604.5h1M316 604.5h3M323 604.5h2M394 604.5h2M408 604.5h2M494 604.5h1M502 604.5h1M515 604.5h2M704 604.5h1M719 604.5h1M721 604.5h2M725 604.5h1M816 604.5h5M831 604.5h1M1008 604.5h3M1013 604.5h2M1027 604.5h1M1029 604.5h2M1092 604.5h3M1103 604.5h1M1113 604.5h1M1127 604.5h1M1129 604.5h1M1136 604.5h1M1147 604.5h1M1151 604.5h1M1157 604.5h1M1164 604.5h3M1203 604.5h1M26 605.5h1M324 605.5h1M359 605.5h8M371 605.5h3M392 605.5h2M410 605.5h2M493 605.5h1M503 605.5h1M514 605.5h1M517 605.5h1M704 605.5h1M720 605.5h1M725 605.5h1M815 605.5h1M832 605.5h7M1007 605.5h1M1015 605.5h1M1027 605.5h1M1031 605.5h1M1091 605.5h1M1104 605.5h1M1113 605.5h1M1127 605.5h1M1129 605.5h1M1137 605.5h1M1146 605.5h1M1152 605.5h5M1167 605.5h2M1202 605.5h1M26 606.5h1M325 606.5h1M355 606.5h4M367 606.5h4M374 606.5h2M391 606.5h1M412 606.5h2M493 606.5h1M503 606.5h1M513 606.5h1M517 606.5h1M703 606.5h1M726 606.5h1M768 606.5h5M815 606.5h1M839 606.5h2M1007 606.5h1M1016 606.5h1M1026 606.5h1M1032 606.5h1M1089 606.5h2M1105 606.5h1M1112 606.5h1M1128 606.5h1M1137 606.5h1M1145 606.5h1M1169 606.5h1M1202 606.5h1M25 607.5h1M325 607.5h1M352 607.5h3M376 607.5h5M391 607.5h1M414 607.5h2M419 607.5h10M492 607.5h1M504 607.5h9M518 607.5h1M703 607.5h1M726 607.5h1M768 607.5h1M773 607.5h1M814 607.5h1M841 607.5h2M915 607.5h3M936 607.5h1M1006 607.5h1M1017 607.5h1M1026 607.5h1M1033 607.5h1M1088 607.5h1M1106 607.5h1M1111 607.5h1M1138 607.5h1M1145 607.5h1M1170 607.5h1M1201 607.5h1M24 608.5h1M326 608.5h1M350 608.5h2M381 608.5h1M390 608.5h1M416 608.5h3M428 608.5h1M488 608.5h5M518 608.5h1M544 608.5h6M702 608.5h1M727 608.5h1M767 608.5h1M774 608.5h1M814 608.5h1M843 608.5h1M912 608.5h3M918 608.5h2M935 608.5h1M937 608.5h1M972 608.5h3M1006 608.5h1M1018 608.5h1M1025 608.5h1M1033 608.5h1M1076 608.5h1M1087 608.5h1M1107 608.5h1M1109 608.5h2M1138 608.5h1M1144 608.5h1M1171 608.5h1M1201 608.5h1M23 609.5h1M326 609.5h1M340 609.5h1M348 609.5h2M382 609.5h1M390 609.5h1M429 609.5h1M488 609.5h1M519 609.5h1M524 609.5h3M543 609.5h1M550 609.5h2M702 609.5h1M727 609.5h1M767 609.5h1M774 609.5h1M813 609.5h1M844 609.5h1M911 609.5h1M920 609.5h2M933 609.5h2M938 609.5h1M971 609.5h1M975 609.5h8M1005 609.5h1M1018 609.5h1M1025 609.5h1M1034 609.5h1M1075 609.5h1M1077 609.5h1M1085 609.5h2M1108 609.5h1M1139 609.5h1M1143 609.5h1M1172 609.5h1M1200 609.5h1M22 610.5h1M327 610.5h1M339 610.5h1M341 610.5h1M347 610.5h1M382 610.5h1M389 610.5h1M429 610.5h1M487 610.5h1M519 610.5h1M523 610.5h1M527 610.5h3M543 610.5h1M552 610.5h1M696 610.5h1M702 610.5h1M728 610.5h1M767 610.5h1M775 610.5h1M779 610.5h2M813 610.5h1M845 610.5h1M872 610.5h1M911 610.5h1M922 610.5h2M927 610.5h6M939 610.5h1M971 610.5h1M983 610.5h3M1005 610.5h1M1019 610.5h1M1024 610.5h1M1035 610.5h1M1073 610.5h2M1078 610.5h1M1084 610.5h1M1139 610.5h1M1141 610.5h2M1173 610.5h1M1180 610.5h1M1199 610.5h1M12 611.5h3M22 611.5h1M327 611.5h1M338 611.5h1M342 611.5h1M346 611.5h1M383 611.5h1M389 611.5h1M429 611.5h1M487 611.5h1M520 611.5h3M530 611.5h2M542 611.5h1M553 611.5h2M564 611.5h3M696 611.5h2M701 611.5h1M729 611.5h1M767 611.5h1M776 611.5h3M781 611.5h2M812 611.5h1M846 611.5h1M864 611.5h1M871 611.5h1M873 611.5h2M880 611.5h3M910 611.5h1M924 611.5h3M940 611.5h2M970 611.5h1M986 611.5h2M1004 611.5h1M1020 611.5h5M1035 611.5h1M1048 611.5h1M1072 611.5h1M1079 611.5h1M1082 611.5h2M1140 611.5h1M1174 611.5h1M1179 611.5h1M1181 611.5h2M1199 611.5h1M11 612.5h1M15 612.5h4M21 612.5h1M328 612.5h1M331 612.5h3M338 612.5h1M342 612.5h1M346 612.5h1M384 612.5h3M388 612.5h1M429 612.5h1M487 612.5h1M520 612.5h1M532 612.5h1M542 612.5h1M555 612.5h1M563 612.5h1M567 612.5h7M595 612.5h2M695 612.5h1M698 612.5h1M701 612.5h1M729 612.5h1M766 612.5h1M783 612.5h1M807 612.5h6M846 612.5h1M864 612.5h3M870 612.5h1M875 612.5h1M878 612.5h2M883 612.5h2M910 612.5h1M942 612.5h2M970 612.5h1M988 612.5h1M1002 612.5h2M1036 612.5h2M1046 612.5h3M1064 612.5h1M1071 612.5h1M1080 612.5h2M1175 612.5h1M1177 612.5h2M1183 612.5h1M1187 612.5h6M1198 612.5h1M4 613.5h1M11 613.5h1M19 613.5h2M328 613.5h3M334 613.5h2M337 613.5h1M343 613.5h1M345 613.5h1M387 613.5h2M430 613.5h1M486 613.5h1M532 613.5h1M541 613.5h1M556 613.5h1M562 613.5h1M574 613.5h2M592 613.5h3M597 613.5h1M695 613.5h1M699 613.5h2M730 613.5h1M736 613.5h3M756 613.5h1M766 613.5h1M784 613.5h6M804 613.5h3M847 613.5h1M863 613.5h1M867 613.5h1M869 613.5h1M876 613.5h2M885 613.5h1M900 613.5h2M909 613.5h1M944 613.5h1M969 613.5h1M989 613.5h1M999 613.5h3M1038 613.5h2M1043 613.5h3M1049 613.5h1M1063 613.5h1M1065 613.5h2M1070 613.5h1M1176 613.5h1M1184 613.5h3M1193 613.5h2M1197 613.5h1M5 614.5h1M10 614.5h1M336 614.5h1M344 614.5h1M430 614.5h1M460 614.5h1M486 614.5h1M533 614.5h1M541 614.5h1M557 614.5h2M562 614.5h1M576 614.5h1M591 614.5h1M598 614.5h1M652 614.5h1M694 614.5h1M700 614.5h1M730 614.5h1M735 614.5h1M739 614.5h2M754 614.5h2M757 614.5h1M766 614.5h1M790 614.5h2M803 614.5h1M848 614.5h1M863 614.5h1M868 614.5h1M886 614.5h1M899 614.5h1M902 614.5h2M909 614.5h1M945 614.5h2M969 614.5h1M990 614.5h1M996 614.5h3M1040 614.5h3M1049 614.5h1M1063 614.5h1M1067 614.5h1M1069 614.5h1M1195 614.5h1M1197 614.5h1M6 615.5h1M9 615.5h1M430 615.5h1M459 615.5h1M461 615.5h1M486 615.5h1M533 615.5h1M540 615.5h1M559 615.5h1M561 615.5h1M577 615.5h1M590 615.5h1M599 615.5h1M603 615.5h2M652 615.5h2M694 615.5h1M731 615.5h1M734 615.5h1M741 615.5h1M748 615.5h6M757 615.5h1M765 615.5h1M792 615.5h2M803 615.5h1M849 615.5h1M863 615.5h1M887 615.5h1M898 615.5h1M904 615.5h3M908 615.5h1M947 615.5h1M968 615.5h1M991 615.5h1M994 615.5h2M1049 615.5h1M1062 615.5h1M1068 615.5h1M1196 615.5h1M7 616.5h1M9 616.5h1M431 616.5h1M459 616.5h1M462 616.5h1M485 616.5h1M534 616.5h1M539 616.5h1M560 616.5h1M578 616.5h1M590 616.5h1M600 616.5h3M605 616.5h1M651 616.5h1M654 616.5h1M694 616.5h1M731 616.5h1M733 616.5h1M742 616.5h1M747 616.5h1M758 616.5h1M765 616.5h1M794 616.5h2M802 616.5h1M850 616.5h1M862 616.5h1M888 616.5h1M897 616.5h1M907 616.5h2M948 616.5h1M966 616.5h2M992 616.5h2M1050 616.5h1M1061 616.5h1M8 617.5h1M431 617.5h1M452 617.5h1M458 617.5h1M462 617.5h1M472 617.5h9M485 617.5h1M534 617.5h1M539 617.5h1M578 617.5h1M589 617.5h1M605 617.5h1M651 617.5h1M655 617.5h1M664 617.5h5M693 617.5h1M732 617.5h1M743 617.5h1M745 617.5h2M758 617.5h1M765 617.5h1M796 617.5h1M802 617.5h1M850 617.5h1M862 617.5h1M889 617.5h2M896 617.5h1M949 617.5h2M960 617.5h6M1050 617.5h1M1061 617.5h1M431 618.5h1M450 618.5h2M453 618.5h2M457 618.5h1M463 618.5h1M470 618.5h2M481 618.5h2M485 618.5h1M535 618.5h1M538 618.5h1M579 618.5h1M583 618.5h6M606 618.5h1M650 618.5h1M656 618.5h3M662 618.5h2M669 618.5h1M693 618.5h1M744 618.5h1M759 618.5h1M765 618.5h1M797 618.5h2M801 618.5h1M851 618.5h1M861 618.5h1M891 618.5h1M894 618.5h2M951 618.5h1M959 618.5h1M1051 618.5h1M1060 618.5h1M431 619.5h1M448 619.5h2M455 619.5h1M457 619.5h1M464 619.5h6M483 619.5h2M535 619.5h1M537 619.5h1M580 619.5h3M607 619.5h1M650 619.5h1M659 619.5h3M669 619.5h1M692 619.5h1M759 619.5h1M764 619.5h1M799 619.5h1M801 619.5h1M852 619.5h2M861 619.5h1M892 619.5h2M952 619.5h3M957 619.5h2M1051 619.5h1M1059 619.5h1M432 620.5h1M447 620.5h1M456 620.5h1M484 620.5h1M536 620.5h2M607 620.5h1M650 620.5h1M670 620.5h1M692 620.5h1M760 620.5h5M800 620.5h1M854 620.5h2M861 620.5h1M955 620.5h2M1051 620.5h1M1059 620.5h1M432 621.5h5M447 621.5h1M536 621.5h1M608 621.5h5M636 621.5h3M649 621.5h1M671 621.5h1M691 621.5h1M856 621.5h3M860 621.5h1M1052 621.5h1M1058 621.5h1M437 622.5h2M446 622.5h1M613 622.5h1M635 622.5h1M639 622.5h4M649 622.5h1M671 622.5h1M689 622.5h2M859 622.5h2M1052 622.5h2M1057 622.5h1M439 623.5h1M445 623.5h1M614 623.5h1M635 623.5h1M643 623.5h4M648 623.5h1M672 623.5h1M688 623.5h1M1054 623.5h2M1057 623.5h1M440 624.5h3M445 624.5h1M615 624.5h1M634 624.5h1M647 624.5h2M673 624.5h1M687 624.5h1M1056 624.5h1M443 625.5h2M616 625.5h6M634 625.5h1M674 625.5h1M685 625.5h2M622 626.5h2M633 626.5h1M675 626.5h1M684 626.5h1M624 627.5h2M633 627.5h1M676 627.5h1M683 627.5h1M626 628.5h2M631 628.5h2M677 628.5h2M682 628.5h1M628 629.5h3M679 629.5h1M681 629.5h1M680 630.5h1" stroke="#1e90ff" stroke-width="1" fill="none"/>
<text x="7.5" y="565" font-size="10" fill="#000" stroke="#000" textLength="70" lengthAdjust="spacing">RSI(14) 54.7295</text>
<rect x="4" y="699" width="1" height="4" fill="#c0c0c0"/>
<rect x="8" y="699" width="1" height="7" fill="#c0c0c0"/>
<rect x="12" y="699" width="1" height="10" fill="#c0c0c0"/>
<rect x="16" y="699" width="1" height="12" fill="#c0c0c0"/>
<rect x="20" y="699" width="1" height="15" fill="#c0c0c0"/>
<rect x="24" y="699" width="1" height="14" fill="#c0c0c0"/>
<rect x="28" y="699" width="1" height="13" fill="#c0c0c0"/>
<rect x="32" y="699" width="1" height="11" fill="#c0c0c0"/>
<rect x="36" y="699" width="1" height="4" fill="#c0c0c0"/>
<rect x="40" y="699" width="1" height="1" fill="#c0c0c0"/>
<rect x="44" y="695" width="1" height="5" fill="#c0c0c0"/>
<rect x="48" y="694" width="1" height="6" fill="#c0c0c0"/>
<rect x="52" y="691" width="1" height="9" fill="#c0c0c0"/>
<rect x="56" y="684" width="1" height="16" fill="#c0c0c0"/>
<rect x="60" y="673" width="1" height="27" fill="#c0c0c0"/>
<rect x="64" y="666" width="1" height="34" fill="#c0c0c0"/>
<rect x="68" y="663" width="1" height="37" fill="#c0c0c0"/>
<rect x="72" y="661" width="1" height="39" fill="#c0c0c0"/>
<rect x="76" y="661" width="1" height="39" fill="#c0c0c0"/>
<rect x="80" y="660" width="1" height="40" fill="#c0c0c0"/>
<rect x="84" y="661" width="1" height="39" fill="#c0c0c0"/>
<rect x="88" y="662" width="1" height="38" fill="#c0c0c0"/>
<rect x="92" y="663" width="1" height="37" fill="#c0c0c0"/>
<rect x="96" y="663" width="1" height="37" fill="#c0c0c0"/>
<rect x="100" y="666" width="1" height="34" fill="#c0c0c0"/>
<rect x="104" y="667" width="1" height="33" fill="#c0c0c0"/>
<rect x="108" y="670" width="1" height="30" fill="#c0c0c0"/>
<rect x="112" y="670" width="1" height="30" fill="#c0c0c0"/>
<rect x="116" y="671" width="1" height="29" fill="#c0c0c0"/>
<rect x="120" y="672" width="1" height="28" fill="#c0c0c0"/>
<rect x="124" y="678" width="1" height="22" fill="#c0c0c0"/>
<rect x="128" y="682" width="1" height="18" fill="#c0c0c0"/>
<rect x="132" y="687" width="1" height="13" fill="#c0c0c0"/>
<rect x="136" y="691" width="1" height="9" fill="#c0c0c0"/>
<rect x="140" y="694" width="1" height="6" fill="#c0c0c0"/>
<rect x="144" y="696" width="1" height="4" fill="#c0c0c0"/>
<rect x="148" y="699" width="1" height="1" fill="#c0c0c0"/>
<rect x="152" y="698" width="1" height="2" fill="#c0c0c0"/>
<rect x="156" y="697" width="1" height="3" fill="#c0c0c0"/>
<rect x="160" y="696" width="1" height="4" fill="#c0c0c0"/>
<rect x="164" y="696" width="1" height="4" fill="#c0c0c0"/>
<rect x="168" y="695" width="1" height="5" fill="#c0c0c0"/>
<rect x="172" y="693" width="1" height="7" fill="#c0c0c0"/>
<rect x="176" y="692" width="1" height="8" fill="#c0c0c0"/>
<rect x="180" y="692" width="1" height="8" fill="#c0c0c0"/>
<rect x="184" y="692" width="1" height="8" fill="#c0c0c0"/>
<rect x="188" y="691" width="1" height="9" fill="#c0c0c0"/>
<rect x="192" y="691" width="1" height="9" fill="#c0c0c0"/>
<rect x="196" y="692" width="1" height="8" fill="#c0c0c0"/>
<rect x="200" y="693" width="1" height="7" fill="#c0c0c0"/>
<rect x="204" y="696" width="1" height="4" fill="#c0c0c0"/>
<rect x="208" y="692" width="1" height="8" fill="#c0c0c0"/>
<rect x="212" y="687" width="1" height="13" fill="#c0c0c0"/>
<rect x="216" y="685" width="1" height="15" fill="#c0c0c0"/>
<rect x="220" y="685" width="1" height="15" fill="#c0c0c0"/>
<rect x="224" y="684" width="1" height="16" fill="#c0c0c0"/>
<rect x="228" y="686" width="1" height="14" fill="#c0c0c0"/>
<rect x="232" y="689" width="1" height="11" fill="#c0c0c0"/>
<rect x="236" y="691" width="1" height="9" fill="#c0c0c0"/>
<rect x="240" y="691" width="1" height="9" fill="#c0c0c0"/>
<rect x="244" y="692" width="1" height="8" fill="#c0c0c0"/>
<rect x="248" y="692" width="1" height="8" fill="#c0c0c0"/>
<rect x="252" y="691" width="1" height="9" fill="#c0c0c0"/>
<rect x="256" y="689" width="1" height="11" fill="#c0c0c0"/>
<rect x="260" y="689" width="1" height="11" fill="#c0c0c0"/>
<rect x="264" y="689" width="1" height="11" fill="#c0c0c0"/>
<rect x="268" y="689" width="1" height="11" fill="#c0c0c0"/>
<rect x="272" y="692" width="1" height="8" fill="#c0c0c0"/>
<rect x="276" y="691" width="1" height="9" fill="#c0c0c0"/>
<rect x="280" y="689" width="1" height="11" fill="#c0c0c0"/>
<rect x="284" y="687" width="1" height="13" fill="#c0c0c0"/>
<rect x="288" y="686" width="1" height="14" fill="#c0c0c0"/>
<rect x="292" y="685" width="1" height="15" fill="#c0c0c0"/>
<rect x="296" y="681" width="1" height="19" fill="#c0c0c0"/>
<rect x="300" y="681" width="1" height="19" fill="#c0c0c0"/>
<rect x="304" y="680" width="1" height="20" fill="#c0c0c0"/>
<rect x="308" y="681" width="1" height="19" fill="#c0c0c0"/>
<rect x="312" y="683" width="1" height="17" fill="#c0c0c0"/>
<rect x="316" y="688" width="1" height="12" fill="#c0c0c0"/>
<rect x="320" y="691" width="1" height="9" fill="#c0c0c0"/>
<rect x="324" y="693" width="1" height="7" fill="#c0c0c0"/>
<rect x="328" y="699" width="1" height="1" fill="#c0c0c0"/>
<rect x="332" y="699" width="1" height="4" fill="#c0c0c0"/>
<rect x="336" y="699" width="1" height="9" fill="#c0c0c0"/>
<rect x="340" y="699" width="1" height="11" fill="#c0c0c0"/>
<rect x="344" y="699" width="1" height="14" fill="#c0c0c0"/>
<rect x="348" y="699" width="1" height="16" fill="#c0c0c0"/>
<rect x="352" y="699" width="1" height="16" fill="#c0c0c0"/>
<rect x="356" y="699" width="1" height="15" fill="#c0c0c0"/>
<rect x="360" y="699" width="1" height="14" fill="#c0c0c0"/>
<rect x="364" y="699" width="1" height="13" fill="#c0c0c0"/>
<rect x="368" y="699" width="1" height="12" fill="#c0c0c0"/>
<rect x="372" y="699" width="1" height="12" fill="#c0c0c0"/>
<rect x="376" y="699" width="1" height="12" fill="#c0c0c0"/>
<rect x="380" y="699" width="1" height="12" fill="#c0c0c0"/>
<rect x="384" y="699" width="1" height="13" fill="#c0c0c0"/>
<rect x="388" y="699" width="1" height="14" fill="#c0c0c0"/>
<rect x="392" y="699" width="1" height="14" fill="#c0c0c0"/>
<rect x="396" y="699" width="1" height="12" fill="#c0c0c0"/>
<rect x="400" y="699" width="1" height="10" fill="#c0c0c0"/>
<rect x="404" y="699" width="1" height="9" fill="#c0c0c0"/>
<rect x="408" y="699" width="1" height="8" fill="#c0c0c0"/>
<rect x="412" y="699" width="1" height="8" fill="#c0c0c0"/>
<rect x="416" y="699" width="1" height="9" fill="#c0c0c0"/>
<rect x="420" y="699" width="1" height="9" fill="#c0c0c0"/>
<rect x="424" y="699" width="1" height="9" fill="#c0c0c0"/>
<rect x="428" y="699" width="1" height="9" fill="#c0c0c0"/>
<rect x="432" y="699" width="1" height="13" fill="#c0c0c0"/>
<rect x="436" y="699" width="1" height="16" fill="#c0c0c0"/>
<rect x="440" y="699" width="1" height="20" fill="#c0c0c0"/>
<rect x="444" y="699" width="1" height="23" fill="#c0c0c0"/>
<rect x="448" y="699" width="1" height="24" fill="#c0c0c0"/>
<rect x="452" y="699" width="1" height="25" fill="#c0c0c0"/>
<rect x="456" y="699" width="1" height="26" fill="#c0c0c0"/>
<rect x="460" y="699" width="1" height="25" fill="#c0c0c0"/>
<rect x="464" y="699" width="1" height="27" fill="#c0c0c0"/>
<rect x="468" y="699" width="1" height="28" fill="#c0c0c0"/>
<rect x="472" y="699" width="1" height="27" fill="#c0c0c0"/>
<rect x="476" y="699" width="1" height="27" fill="#c0c0c0"/>
<rect x="480" y="699" width="1" height="27" fill="#c0c0c0"/>
<rect x="484" y="699" width="1" height="28" fill="#c0c0c0"/>
<rect x="488" y="699" width="1" height="25" fill="#c0c0c0"/>
<rect x="492" y="699" width="1" height="23" fill="#c0c0c0"/>
<rect x="496" y="699" width="1" height="19" fill="#c0c0c0"/>
<rect x="500" y="699" width="1" height="16" fill="#c0c0c0"/>
<rect x="504" y="699" width="1" height="15" fill="#c0c0c0"/>
<rect x="508" y="699" width="1" height="14" fill="#c0c0c0"/>
<rect x="512" y="699" width="1" height="14" fill="#c0c0c0"/>
<rect x="516" y="699" width="1" height="12" fill="#c0c0c0"/>
<rect x="520" y="699" width="1" height="14" fill="#c0c0c0"/>
<rect x="524" y="699" width="1" height="14" fill="#c0c0c0"/>
<rect x="528" y="699" width="1" height="14" fill="#c0c0c0"/>
<rect x="532" y="699" width="1" height="15" fill="#c0c0c0"/>
<rect x="536" y="699" width="1" height="19" fill="#c0c0c0"/>
<rect x="540" y="699" width="1" height="21" fill="#c0c0c0"/>
<rect x="544" y="699" width="1" height="20" fill="#c0c0c0"/>
<rect x="548" y="699" width="1" height="19" fill="#c0c0c0"/>
<rect x="552" y="699" width="1" height="19" fill="#c0c0c0"/>
<rect x="556" y="699" width="1" height="20" fill="#c0c0c0"/>
<rect x="560" y="699" width="1" height="23" fill="#c0c0c0"/>
<rect x="564" y="699" width="1" height="22" fill="#c0c0c0"/>
<rect x="568" y="699" width="1" height="22" fill="#c0c0c0"/>
<rect x="572" y="699" width="1" height="22" fill="#c0c0c0"/>
<rect x="576" y="699" width="1" height="22" fill="#c0c0c0"/>
<rect x="580" y="699" width="1" height="25" fill="#c0c0c0"/>
<rect x="584" y="699" width="1" height="26" fill="#c0c0c0"/>
<rect x="588" y="699" width="1" height="27" fill="#c0c0c0"/>
<rect x="592" y="699" width="1" height="25" fill="#c0c0c0"/>
<rect x="596" y="699" width="1" height="24" fill="#c0c0c0"/>
<rect x="600" y="699" width="1" height="25" fill="#c0c0c0"/>
<rect x="604" y="699" width="1" height="26" fill="#c0c0c0"/>
<rect x="608" y="699" width="1" height="27" fill="#c0c0c0"/>
<rect x="612" y="699" width="1" height="27" fill="#c0c0c0"/>
<rect x="616" y="699" width="1" height="31" fill="#c0c0c0"/>
<rect x="620" y="699" width="1" height="32" fill="#c0c0c0"/>
<rect x="624" y="699" width="1" height="34" fill="#c0c0c0"/>
<rect x="628" y="699" width="1" height="37" fill="#c0c0c0"/>
<rect x="632" y="699" width="1" height="39" fill="#c0c0c0"/>
<rect x="636" y="699" width="1" height="38" fill="#c0c0c0"/>
<rect x="640" y="699" width="1" height="38" fill="#c0c0c0"/>
<rect x="644" y="699" width="1" height="38" fill="#c0c0c0"/>
<rect x="648" y="699" width="1" height="36" fill="#c0c0c0"/>
<rect x="652" y="699" width="1" height="35" fill="#c0c0c0"/>
<rect x="656" y="699" width="1" height="35" fill="#c0c0c0"/>
<rect x="660" y="699" width="1" height="34" fill="#c0c0c0"/>
<rect x="664" y="699" width="1" height="33" fill="#c0c0c0"/>
<rect x="668" y="699" width="1" height="31" fill="#c0c0c0"/>
<rect x="672" y="699" width="1" height="33" fill="#c0c0c0"/>
<rect x="676" y="699" width="1" height="35" fill="#c0c0c0"/>
<rect x="680" y="699" width="1" height="40" fill="#c0c0c0"/>
<rect x="684" y="699" width="1" height="42" fill="#c0c0c0"/>
<rect x="688" y="699" width="1" height="42" fill="#c0c0c0"/>
<rect x="692" y="699" width="1" height="41" fill="#c0c0c0"/>
<rect x="696" y="699" width="1" height="38" fill="#c0c0c0"/>
<rect x="700" y="699" width="1" height="37" fill="#c0c0c0"/>
<rect x="704" y="699" width="1" height="32" fill="#c0c0c0"/>
<rect x="708" y="699" width="1" height="27" fill="#c0c0c0"/>
<rect x="712" y="699" width="1" height="22" fill="#c0c0c0"/>
<rect x="716" y="699" width="1" height="19" fill="#c0c0c0"/>
<rect x="720" y="699" width="1" height="17" fill="#c0c0c0"/>
<rect x="724" y="699" width="1" height="15" fill="#c0c0c0"/>
<rect x="728" y="699" width="1" height="17" fill="#c0c0c0"/>
<rect x="732" y="699" width="1" height="21" fill="#c0c0c0"/>
<rect x="736" y="699" width="1" height="23" fill="#c0c0c0"/>
<rect x="740" y="699" width="1" height="25" fill="#c0c0c0"/>
<rect x="744" y="699" width="1" height="29" fill="#c0c0c0"/>
<rect x="748" y="699" width="1" height="31" fill="#c0c0c0"/>
<rect x="752" y="699" width="1" height="32" fill="#c0c0c0"/>
<rect x="756" y="699" width="1" height="32" fill="#c0c0c0"/>
<rect x="760" y="699" width="1" height="37" fill="#c0c0c0"/>
<rect x="764" y="699" width="1" height="40" fill="#c0c0c0"/>
<rect x="768" y="699" width="1" height="36" fill="#c0c0c0"/>
<rect x="772" y="699" width="1" height="34" fill="#c0c0c0"/>
<rect x="776" y="699" width="1" height="34" fill="#c0c0c0"/>
<rect x="780" y="699" width="1" height="33" fill="#c0c0c0"/>
<rect x="784" y="699" width="1" height="34" fill="#c0c0c0"/>
<rect x="788" y="699" width="1" height="35" fill="#c0c0c0"/>
<rect x="792" y="699" width="1" height="36" fill="#c0c0c0"/>
<rect x="796" y="699" width="1" height="38" fill="#c0c0c0"/>
<rect x="800" y="699" width="1" height="41" fill="#c0c0c0"/>
<rect x="804" y="699" width="1" height="41" fill="#c0c0c0"/>
<rect x="808" y="699" width="1" height="40" fill="#c0c0c0"/>
<rect x="812" y="699" width="1" height="39" fill="#c0c0c0"/>
<rect x="816" y="699" width="1" height="34" fill="#c0c0c0"/>
<rect x="820" y="699" width="1" height="30" fill="#c0c0c0"/>
<rect x="824" y="699" width="1" height="25" fill="#c0c0c0"/>
<rect x="828" y="699" width="1" height="21" fill="#c0c0c0"/>
<rect x="832" y="699" width="1" height="19" fill="#c0c0c0"/>
<rect x="836" y="699" width="1" height="18" fill="#c0c0c0"/>
<rect x="840" y="699" width="1" height="18" fill="#c0c0c0"/>
<rect x="844" y="699" width="1" height="18" fill="#c0c0c0"/>
<rect x="848" y="699" width="1" height="21" fill="#c0c0c0"/>
<rect x="852" y="699" width="1" height="27" fill="#c0c0c0"/>
<rect x="856" y="699" width="1" height="32" fill="#c0c0c0"/>
<rect x="860" y="699" width="1" height="36" fill="#c0c0c0"/>
<rect x="864" y="699" width="1" height="36" fill="#c0c0c0"/>
<rect x="868" y="699" width="1" height="37" fill="#c0c0c0"/>
<rect x="872" y="699" width="1" height="36" fill="#c0c0c0"/>
<rect x="876" y="699" width="1" height="36" fill="#c0c0c0"/>
<rect x="880" y="699" width="1" height="35" fill="#c0c0c0"/>
<rect x="884" y="699" width="1" height="36" fill="#c0c0c0"/>
<rect x="888" y="699" width="1" height="38" fill="#c0c0c0"/>
<rect x="892" y="699" width="1" height="40" fill="#c0c0c0"/>
<rect x="896" y="699" width="1" height="42" fill="#c0c0c0"/>
<rect x="900" y="699" width="1" height="41" fill="#c0c0c0"/>
<rect x="904" y="699" width="1" height="41" fill="#c0c0c0"/>
<rect x="908" y="699" width="1" height="41" fill="#c0c0c0"/>
<rect x="912" y="699" width="1" height="38" fill="#c0c0c0"/>
<rect x="916" y="699" width="1" height="35" fill="#c0c0c0"/>
<rect x="920" y="699" width="1" height="33" fill="#c0c0c0"/>
<rect x="924" y="699" width="1" height="33" fill="#c0c0c0"/>
<rect x="928" y="699" width="1" height="31" fill="#c0c0c0"/>
<rect x="932" y="699" width="1" height="30" fill="#c0c0c0"/>
<rect x="936" y="699" width="1" height="27" fill="#c0c0c0"/>
<rect x="940" y="699" width="1" height="27" fill="#c0c0c0"/>
<rect x="944" y="699" width="1" height="28" fill="#c0c0c0"/>
<rect x="948" y="699" width="1" height="28" fill="#c0c0c0"/>
<rect x="952" y="699" width="1" height="30" fill="#c0c0c0"/>
<rect x="956" y="699" width="1" height="33" fill="#c0c0c0"/>
<rect x="960" y="699" width="1" height="33" fill="#c0c0c0"/>
<rect x="964" y="699" width="1" height="33" fill="#c0c0c0"/>
<rect x="968" y="699" width="1" height="32" fill="#c0c0c0"/>
<rect x="972" y="699" width="1" height="29" fill="#c0c0c0"/>
<rect x="976" y="699" width="1" height="27" fill="#c0c0c0"/>
<rect x="980" y="699" width="1" height="25" fill="#c0c0c0"/>
<rect x="984" y="699" width="1" height="24" fill="#c0c0c0"/>
<rect x="988" y="699" width="1" height="23" fill="#c0c0c0"/>
<rect x="992" y="699" width="1" height="24" fill="#c0c0c0"/>
<rect x="996" y="699" width="1" height="24" fill="#c0c0c0"/>
<rect x="1000" y="699" width="1" height="23" fill="#c0c0c0"/>
<rect x="1004" y="699" width="1" height="22" fill="#c0c0c0"/>
<rect x="1008" y="699" width="1" height="19" fill="#c0c0c0"/>
<rect x="1012" y="699" width="1" height="17" fill="#c0c0c0"/>
<rect x="1016" y="699" width="1" height="15" fill="#c0c0c0"/>
<rect x="1020" y="699" width="1" height="16" fill="#c0c0c0"/>
<rect x="1024" y="699" width="1" height="15" fill="#c0c0c0"/>
<rect x="1028" y="699" width="1" height="14" fill="#c0c0c0"/>
<rect x="1032" y="699" width="1" height="13" fill="#c0c0c0"/>
<rect x="1036" y="699" width="1" height="14" fill="#c0c0c0"/>
<rect x="1040" y="699" width="1" height="16" fill="#c0c0c0"/>
<rect x="1044" y="699" width="1" height="16" fill="#c0c0c0"/>
<rect x="1048" y="699" width="1" height="16" fill="#c0c0c0"/>
<rect x="1052" y="699" width="1" height="21" fill="#c0c0c0"/>
<rect x="1056" y="699" width="1" height="25" fill="#c0c0c0"/>
<rect x="1060" y="699" width="1" height="27" fill="#c0c0c0"/>
<rect x="1064" y="699" width="1" height="26" fill="#c0c0c0"/>
<rect x="1068" y="699" width="1" height="27" fill="#c0c0c0"/>
<rect x="1072" y="699" width="1" height="26" fill="#c0c0c0"/>
<rect x="1076" y="699" width="1" height="24" fill="#c0c0c0"/>
<rect x="1080" y="699" width="1" height="25" fill="#c0c0c0"/>
<rect x="1084" y="699" width="1" height="24" fill="#c0c0c0"/>
<rect x="1088" y="699" width="1" height="22" fill="#c0c0c0"/>
<rect x="1092" y="699" width="1" height="20" fill="#c0c0c0"/>
<rect x="1096" y="699" width="1" height="17" fill="#c0c0c0"/>
<rect x="1100" y="699" width="1" height="14" fill="#c0c0c0"/>
<rect x="1104" y="699" width="1" height="13" fill="#c0c0c0"/>
<rect x="1108" y="699" width="1" height="14" fill="#c0c0c0"/>
<rect x="1112" y="699" width="1" height="14" fill="#c0c0c0"/>
<rect x="1116" y="699" width="1" height="11" fill="#c0c0c0"/>
<rect x="1120" y="699" width="1" height="8" fill="#c0c0c0"/>
<rect x="1124" y="699" width="1" height="7" fill="#c0c0c0"/>
<rect x="1128" y="699" width="1" height="7" fill="#c0c0c0"/>
<rect x="1132" y="699" width="1" height="6" fill="#c0c0c0"/>
<rect x="1136" y="699" width="1" height="6" fill="#c0c0c0"/>
<rect x="1140" y="699" width="1" height="9" fill="#c0c0c0"/>
<rect x="1144" y="699" width="1" height="11" fill="#c0c0c0"/>
<rect x="1148" y="699" width="1" height="9" fill="#c0c0c0"/>
<rect x="1152" y="699" width="1" height="8" fill="#c0c0c0"/>
<rect x="1156" y="699" width="1" height="9" fill="#c0c0c0"/>
<rect x="1160" y="699" width="1" height="8" fill="#c0c0c0"/>
<rect x="1164" y="699" width="1" height="8" fill="#c0c0c0"/>
<rect x="1168" y="699" width="1" height="9" fill="#c0c0c0"/>
<rect x="1172" y="699" width="1" height="10" fill="#c0c0c0"/>
<rect x="1176" y="699" width="1" height="13" fill="#c0c0c0"/>
<rect x="1180" y="699" width="1" height="15" fill="#c0c0c0"/>
<rect x="1184" y="699" width="1" height="17" fill="#c0c0c0"/>
<rect x="1188" y="699" width="1" height="18" fill="#c0c0c0"/>
<rect x="1192" y="699" width="1" height="19" fill="#c0c0c0"/>
<rect x="1196" y="699" width="1" height="20" fill="#c0c0c0"/>
<rect x="1200" y="699" width="1" height="20" fill="#c0c0c0"/>
<rect x="1204" y="699" width="1" height="17" fill="#c0c0c0"/>
<rect x="1208" y="699" width="1" height="13" fill="#c0c0c0"/>
<rect x="1212" y="699" width="1" height="10" fill="#c0c0c0"/>
<rect x="1216" y="699" width="1" height="8" fill="#c0c0c0"/>
<rect x="1220" y="699" width="1" height="5" fill="#c0c0c0"/>
<rect x="1224" y="699" width="1" height="3" fill="#c0c0c0"/>
<rect x="1228" y="699" width="1" height="3" fill="#c0c0c0"/>
<rect x="1232" y="699" width="1" height="2" fill="#c0c0c0"/>
<rect x="1236" y="699" width="1" height="1" fill="#c0c0c0"/>
<rect x="1240" y="697" width="1" height="3" fill="#c0c0c0"/>
<rect x="1244" y="697" width="1" height="3" fill="#c0c0c0"/>
<rect x="1248" y="696" width="1" height="4" fill="#c0c0c0"/>
<rect x="1252" y="695" width="1" height="5" fill="#c0c0c0"/>
<rect x="1256" y="695" width="1" height="5" fill="#c0c0c0"/>
<path d="M95 660.5h3M101 660.5h3M107 661.5h3M90 662.5h2M113 662.5h1M89 663.5h1M114 663.5h2M85 665.5h1M119 665.5h1M84 666.5h1M120 666.5h2M83 667.5h1M125 669.5h2M127 670.5h1M79 671.5h1M78 672.5h1M77 673.5h1M131 673.5h1M132 674.5h2M74 677.5h1M137 677.5h2M73 678.5h1M139 678.5h1M72 679.5h1M143 681.5h1M144 682.5h1M69 683.5h1M145 683.5h1M311 683.5h3M317 683.5h3M69 684.5h1M306 684.5h2M323 684.5h3M4 685.5h2M68 685.5h1M305 685.5h1M6 686.5h1M149 686.5h2M299 686.5h3M329 686.5h2M151 687.5h1M227 687.5h3M233 687.5h3M239 687.5h3M245 687.5h3M294 687.5h2M331 687.5h1M223 688.5h1M251 688.5h3M283 688.5h1M287 688.5h3M293 688.5h1M10 689.5h1M65 689.5h1M155 689.5h1M221 689.5h2M257 689.5h3M263 689.5h3M281 689.5h2M11 690.5h1M64 690.5h1M156 690.5h2M211 690.5h1M215 690.5h3M269 690.5h3M275 690.5h3M335 690.5h1M12 691.5h1M63 691.5h1M199 691.5h1M203 691.5h3M209 691.5h2M336 691.5h1M161 692.5h1M191 692.5h3M197 692.5h2M337 692.5h1M162 693.5h2M186 693.5h2M185 694.5h1M16 695.5h1M59 695.5h1M167 695.5h3M173 695.5h3M179 695.5h3M341 695.5h1M17 696.5h2M58 696.5h1M342 696.5h1M58 697.5h1M343 697.5h1M1255 697.5h1M1253 698.5h2M22 700.5h1M1247 700.5h3M23 701.5h1M54 701.5h1M347 701.5h1M24 702.5h1M53 702.5h1M348 702.5h1M1242 702.5h2M52 703.5h1M349 703.5h1M1241 703.5h1M28 705.5h1M353 705.5h1M1237 705.5h1M29 706.5h2M47 706.5h2M354 706.5h2M1236 706.5h1M46 707.5h1M1147 707.5h1M1151 707.5h3M1157 707.5h3M1163 707.5h3M1235 707.5h1M34 708.5h1M42 708.5h1M427 708.5h1M431 708.5h3M1139 708.5h3M1145 708.5h2M1169 708.5h3M35 709.5h2M40 709.5h2M359 709.5h1M419 709.5h3M425 709.5h2M437 709.5h2M1133 709.5h3M1175 709.5h3M1181 709.5h3M1230 709.5h2M360 710.5h2M409 710.5h1M413 710.5h3M439 710.5h1M1187 710.5h1M1229 710.5h1M365 711.5h3M403 711.5h1M407 711.5h2M443 711.5h2M1127 711.5h3M1188 711.5h2M371 712.5h1M389 712.5h3M395 712.5h3M401 712.5h2M445 712.5h1M1123 712.5h1M1193 712.5h2M1223 712.5h3M372 713.5h2M377 713.5h3M383 713.5h3M533 713.5h3M1121 713.5h2M1195 713.5h1M449 714.5h2M527 714.5h3M539 714.5h3M1039 714.5h1M1043 714.5h3M1049 714.5h3M1199 714.5h1M1218 714.5h2M451 715.5h1M522 715.5h2M545 715.5h3M1037 715.5h2M1055 715.5h1M1116 715.5h2M1200 715.5h2M1217 715.5h1M455 716.5h1M521 716.5h1M551 716.5h3M1031 716.5h3M1056 716.5h2M1115 716.5h1M1205 716.5h3M1211 716.5h3M456 717.5h2M516 717.5h2M557 717.5h3M1026 717.5h2M1061 717.5h2M1111 717.5h1M515 718.5h1M563 718.5h1M1025 718.5h1M1063 718.5h1M1109 718.5h2M461 719.5h1M564 719.5h2M1019 719.5h3M1067 719.5h3M462 720.5h2M510 720.5h2M569 720.5h3M575 720.5h3M739 720.5h1M743 720.5h3M1014 720.5h2M1103 720.5h3M509 721.5h1M581 721.5h3M737 721.5h2M749 721.5h1M851 721.5h3M857 721.5h3M1013 721.5h1M1073 721.5h3M1098 721.5h2M467 722.5h1M503 722.5h3M587 722.5h1M732 722.5h2M750 722.5h2M847 722.5h1M863 722.5h1M1007 722.5h3M1079 722.5h1M1097 722.5h1M468 723.5h2M498 723.5h2M588 723.5h2M593 723.5h3M731 723.5h1M845 723.5h2M864 723.5h2M1080 723.5h2M1087 723.5h1M1091 723.5h3M473 724.5h2M497 724.5h1M599 724.5h3M605 724.5h2M755 724.5h2M1002 724.5h2M1085 724.5h2M475 725.5h1M479 725.5h3M491 725.5h3M607 725.5h1M611 725.5h3M726 725.5h2M757 725.5h1M841 725.5h1M1001 725.5h1M485 726.5h3M617 726.5h3M725 726.5h1M840 726.5h1M869 726.5h2M995 726.5h3M623 727.5h3M761 727.5h1M839 727.5h1M871 727.5h1M990 727.5h2M629 728.5h2M721 728.5h1M762 728.5h2M955 728.5h1M989 728.5h1M631 729.5h1M720 729.5h1M834 729.5h2M875 729.5h1M947 729.5h3M953 729.5h2M959 729.5h3M965 729.5h3M971 729.5h3M977 729.5h3M983 729.5h3M635 730.5h1M719 730.5h1M767 730.5h3M833 730.5h1M876 730.5h2M636 731.5h2M942 731.5h2M715 732.5h1M773 732.5h3M829 732.5h1M881 732.5h1M941 732.5h1M641 733.5h3M714 733.5h1M779 733.5h3M827 733.5h2M882 733.5h2M935 733.5h3M647 734.5h1M667 734.5h1M671 734.5h3M677 734.5h3M683 734.5h3M713 734.5h1M785 734.5h3M791 734.5h3M797 734.5h2M648 735.5h2M665 735.5h2M689 735.5h3M799 735.5h1M803 735.5h3M822 735.5h2M887 735.5h3M930 735.5h2M653 736.5h3M659 736.5h3M695 736.5h3M703 736.5h1M707 736.5h3M809 736.5h3M821 736.5h1M893 736.5h3M929 736.5h1M701 737.5h2M815 737.5h3M899 737.5h3M905 737.5h3M919 737.5h1M923 737.5h3M911 738.5h3M917 738.5h2" stroke="#ff0000" stroke-width="1" fill="none"/>
<text x="7.5" y="663" font-size="10" fill="#000" stroke="#000" textLength="150" lengthAdjust="spacing">MACD(12,26,9) 0.004629 0.001252</text>
<rect x="3" y="23" width="1578" height="1" fill="#000" />
<rect x="3" y="550" width="1578" height="1" fill="#000" />
<rect x="3" y="23" width="1" height="528" fill="#000" />
<rect x="1580" y="23" width="1" height="528" fill="#000" />
<rect x="3" y="552" width="1578" height="1" fill="#000" />
<rect x="3" y="648" width="1578" height="1" fill="#000" />
<rect x="3" y="552" width="1" height="97" fill="#000" />
<rect x="1580" y="552" width="1" height="97" fill="#000" />
<rect x="3" y="650" width="1578" height="1" fill="#000" />
<rect x="3" y="746" width="1578" height="1" fill="#000" />
<rect x="3" y="650" width="1" height="97" fill="#000" />
<rect x="1580" y="650" width="1" height="97" fill="#000" />
<rect x="1581" y="52" width="2" height="1" fill="#000" />
<text x="1585.2" y="56" font-size="10" fill="#000" stroke="#000" textLength="35" lengthAdjust="spacing" >7.19110</text>
<rect x="1581" y="85" width="2" height="1" fill="#000" />
<text x="1585.2" y="89" font-size="10" fill="#000" stroke="#000" textLength="35" lengthAdjust="spacing" >7.13670</text>
<rect x="1581" y="118" width="2" height="1" fill="#000" />
<text x="1585.2" y="122" font-size="10" fill="#000" stroke="#000" textLength="35" lengthAdjust="spacing" >7.08230</text>
<rect x="1581" y="151" width="2" height="1" fill="#000" />
<text x="1585.2" y="155" font-size="10" fill="#000" stroke="#000" textLength="35" lengthAdjust="spacing" >7.02950</text>
<rect x="1581" y="184" width="2" height="1" fill="#000" />
<text x="1585.2" y="188" font-size="10" fill="#000" stroke="#000" textLength="35" lengthAdjust="spacing" >6.97510</text>
<rect x="1581" y="217" width="2" height="1" fill="#000" />
<text x="1585.2" y="221" font-size="10" fill="#000" stroke="#000" textLength="35" lengthAdjust="spacing" >6.92230</text>
<rect x="1581" y="250" width="2" height="1" fill="#000" />
<text x="1585.2" y="254" font-size="10" fill="#000" stroke="#000" textLength="35" lengthAdjust="spacing" >6.86790</text>
<rect x="1581" y="283" width="2" height="1" fill="#000" />
<text x="1585.2" y="287" font-size="10" fill="#000" stroke="#000" textLength="35" lengthAdjust="spacing" >6.81350</text>
<rect x="1581" y="349" width="2" height="1" fill="#000" />
<text x="1585.2" y="353" font-size="10" fill="#000" stroke="#000" textLength="35" lengthAdjust="spacing" >6.70630</text>
<rect x="1581" y="382" width="2" height="1" fill="#000" />
<text x="1585.2" y="386" font-size="10" fill="#000" stroke="#000" textLength="35" lengthAdjust="spacing" >6.65350</text>
<rect x="1581" y="415" width="2" height="1" fill="#000" />
<text x="1585.2" y="419" font-size="10" fill="#000" stroke="#000" textLength="35" lengthAdjust="spacing" >6.59910</text>
<rect x="1581" y="448" width="2" height="1" fill="#000" />
<text x="1585.2" y="452" font-size="10" fill="#000" stroke="#000" textLength="35" lengthAdjust="spacing" >6.54470</text>
<rect x="1581" y="481" width="2" height="1" fill="#000" />
<text x="1585.2" y="485" font-size="10" fill="#000" stroke="#000" textLength="35" lengthAdjust="spacing" >6.49190</text>
<rect x="1581" y="514" width="2" height="1" fill="#000" />
<text x="1585.2" y="518" font-size="10" fill="#000" stroke="#000" textLength="35" lengthAdjust="spacing" >6.43750</text>
<rect x="1581" y="547" width="2" height="1" fill="#000" />
<text x="1585.2" y="551" font-size="10" fill="#000" stroke="#000" textLength="35" lengthAdjust="spacing" >6.38470</text>
<rect x="1581" y="316" width="2" height="1" fill="#000" />
<rect x="1581" y="554" width="1" height="1" fill="#000" />
<text x="1584.5" y="563" font-size="10" fill="#000" stroke="#000" textLength="15" lengthAdjust="spacing" >100</text>
<text x="1582" y="586" font-size="10" fill="#000" stroke="#000" textLength="10.5" lengthAdjust="spacing" >70</text>
<text x="1582.3" y="623" font-size="10" fill="#000" stroke="#000" textLength="10.5" lengthAdjust="spacing" >30</text>
<rect x="1581" y="647" width="1" height="1" fill="#000" />
<text x="1583.6" y="645" font-size="10" fill="#000" stroke="#000" textLength="5" lengthAdjust="spacing" >0</text>
<rect x="1581" y="652" width="1" height="1" fill="#000" />
<text x="1583.6" y="661" font-size="10" fill="#000" stroke="#000" textLength="38" lengthAdjust="spacing" >0.042275</text>
<rect x="1581" y="699" width="1" height="1" fill="#000" />
<text x="1583.6" y="703" font-size="10" fill="#000" stroke="#000" textLength="19.5" lengthAdjust="spacing" >0.00</text>
<rect x="1581" y="745" width="1" height="1" fill="#000" />
<text x="1583.6" y="743" font-size="10" fill="#000" stroke="#000" textLength="37" lengthAdjust="spacing" >-0.04148</text>
<rect x="3" y="395" width="6" height="6" fill="#ff0000"/>
<rect x="5" y="397" width="2" height="2" fill="#fff"/>
<rect x="1574" y="395" width="6" height="6" fill="#ff0000"/>
<rect x="1576" y="397" width="2" height="2" fill="#fff"/>
<rect x="3" y="460" width="6" height="6" fill="#00ff00"/>
<rect x="5" y="462" width="2" height="2" fill="#fff"/>
<rect x="1574" y="460" width="6" height="6" fill="#00ff00"/>
<rect x="1576" y="462" width="2" height="2" fill="#fff"/>
<rect x="3" y="534" width="6" height="6" fill="#0000ff"/>
<rect x="5" y="536" width="2" height="2" fill="#fff"/>
<rect x="1574" y="534" width="6" height="6" fill="#0000ff"/>
<rect x="1576" y="536" width="2" height="2" fill="#fff"/>
<rect x="1582" y="164" width="39" height="11" fill="#ff0000"/>
<text x="1585.6" y="173" font-size="10" fill="#fff" stroke="#fff" textLength="34" lengthAdjust="spacing">7.00029</text>
<rect x="1582" y="232" width="39" height="11" fill="#ff0000"/>
<text x="1585.6" y="241" font-size="10" fill="#fff" stroke="#fff" textLength="34" lengthAdjust="spacing">6.88897</text>
<rect x="1582" y="310" width="39" height="11" fill="#ff0000"/>
<text x="1585.6" y="319" font-size="10" fill="#fff" stroke="#fff" textLength="34" lengthAdjust="spacing">6.76157</text>
<rect x="1582" y="392" width="39" height="11" fill="#ff0000"/>
<text x="1585.6" y="401" font-size="10" fill="#fff" stroke="#fff" textLength="34" lengthAdjust="spacing">6.62709</text>
<rect x="1582" y="458" width="39" height="11" fill="#00ff00"/>
<text x="1585.6" y="467" font-size="10" fill="#fff" stroke="#fff" textLength="34" lengthAdjust="spacing">6.52138</text>
<rect x="1582" y="485" width="39" height="11" fill="#000"/>
<text x="1585.6" y="494" font-size="10" fill="#fff" stroke="#fff" textLength="34" lengthAdjust="spacing">6.47690</text>
<rect x="1582" y="531" width="39" height="11" fill="#0000ff"/>
<text x="1585.6" y="540" font-size="10" fill="#fff" stroke="#fff" textLength="34" lengthAdjust="spacing">6.40104</text>
<rect x="4" y="747" width="1" height="3" fill="#000" />
<text x="3.4" y="759" font-size="10" fill="#000" stroke="#000" textLength="47.2" lengthAdjust="spacing" word-spacing="1.2">3 Mar 2020</text>
<rect x="68" y="747" width="1" height="3" fill="#000" />
<text x="67.4" y="759" font-size="10" fill="#000" stroke="#000" textLength="52.4" lengthAdjust="spacing" word-spacing="1.2">21 Mar 2020</text>
<rect x="132" y="747" width="1" height="3" fill="#000" />
<text x="131.4" y="759" font-size="10" fill="#000" stroke="#000" textLength="46.0" lengthAdjust="spacing" word-spacing="1.2">9 Apr 2020</text>
<rect x="196" y="747" width="1" height="3" fill="#000" />
<text x="195.4" y="759" font-size="10" fill="#000" stroke="#000" textLength="51.1" lengthAdjust="spacing" word-spacing="1.2">28 Apr 2020</text>
<rect x="260" y="747" width="1" height="3" fill="#000" />
<text x="259.4" y="759" font-size="10" fill="#000" stroke="#000" textLength="54.4" lengthAdjust="spacing" word-spacing="1.2">16 May 2020</text>
<rect x="324" y="747" width="1" height="3" fill="#000" />
<text x="323.4" y="759" font-size="10" fill="#000" stroke="#000" textLength="45.5" lengthAdjust="spacing" word-spacing="1.2">4 Jun 2020</text>
<rect x="388" y="747" width="1" height="3" fill="#000" />
<text x="387.4" y="759" font-size="10" fill="#000" stroke="#000" textLength="50.6" lengthAdjust="spacing" word-spacing="1.2">23 Jun 2020</text>
<rect x="452" y="747" width="1" height="3" fill="#000" />
<text x="451.4" y="759" font-size="10" fill="#000" stroke="#000" textLength="47.1" lengthAdjust="spacing" word-spacing="1.2">11 Jul 2020</text>
<rect x="516" y="747" width="1" height="3" fill="#000" />
<text x="515.4" y="759" font-size="10" fill="#000" stroke="#000" textLength="47.300000000000004" lengthAdjust="spacing" word-spacing="1.2">30 Jul 2020</text>
<rect x="580" y="747" width="1" height="3" fill="#000" />
<text x="579.4" y="759" font-size="10" fill="#000" stroke="#000" textLength="53.0" lengthAdjust="spacing" word-spacing="1.2">18 Aug 2020</text>
<rect x="644" y="747" width="1" height="3" fill="#000" />
<text x="643.4" y="759" font-size="10" fill="#000" stroke="#000" textLength="46.6" lengthAdjust="spacing" word-spacing="1.2">5 Sep 2020</text>
<rect x="708" y="747" width="1" height="3" fill="#000" />
<text x="707.4" y="759" font-size="10" fill="#000" stroke="#000" textLength="51.6" lengthAdjust="spacing" word-spacing="1.2">24 Sep 2020</text>
<rect x="772" y="747" width="1" height="3" fill="#000" />
<text x="771.4" y="759" font-size="10" fill="#000" stroke="#000" textLength="50.2" lengthAdjust="spacing" word-spacing="1.2">13 Oct 2020</text>
<rect x="836" y="747" width="1" height="3" fill="#000" />
<text x="835.4" y="759" font-size="10" fill="#000" stroke="#000" textLength="51.1" lengthAdjust="spacing" word-spacing="1.2">31 Oct 2020</text>
<rect x="900" y="747" width="1" height="3" fill="#000" />
<text x="899.4" y="759" font-size="10" fill="#000" stroke="#000" textLength="53.300000000000004" lengthAdjust="spacing" word-spacing="1.2">19 Nov 2020</text>
<rect x="964" y="747" width="1" height="3" fill="#000" />
<text x="963.4" y="759" font-size="10" fill="#000" stroke="#000" textLength="47.300000000000004" lengthAdjust="spacing" word-spacing="1.2">8 Dec 2020</text>
<rect x="1028" y="747" width="1" height="3" fill="#000" />
<text x="1027.4" y="759" font-size="10" fill="#000" stroke="#000" textLength="52.0" lengthAdjust="spacing" word-spacing="1.2">28 Dec 2020</text>
<rect x="1092" y="747" width="1" height="3" fill="#000" />
<text x="1091.4" y="759" font-size="10" fill="#000" stroke="#000" textLength="49.0" lengthAdjust="spacing" word-spacing="1.2">15 Jan 2021</text>
<rect x="1156" y="747" width="1" height="3" fill="#000" />
<text x="1155.4" y="759" font-size="10" fill="#000" stroke="#000" textLength="46.300000000000004" lengthAdjust="spacing" word-spacing="1.2">3 Feb 2021</text>
<rect x="1220" y="747" width="1" height="3" fill="#000" />
<text x="1219.4" y="759" font-size="10" fill="#000" stroke="#000" textLength="51.2" lengthAdjust="spacing" word-spacing="1.2">22 Feb 2021</text>
<rect x="0" y="767" width="1621" height="1" fill="#e6e6e6" />
<rect x="0" y="769" width="1621" height="1" fill="#000" />
<rect x="0" y="770" width="1621" height="1" fill="#fcfcfc" />
<rect x="0" y="771" width="1621" height="17" fill="#f0f0f0" />
<rect x="0" y="788" width="1621" height="2" fill="#fafafa" />
<rect x="0" y="790" width="1621" height="1" fill="#f0f0f0" />
<rect x="0" y="769" width="1" height="19" fill="#696969" />
<rect x="416" y="770" width="1" height="18" fill="#fafafa" />
<rect x="417" y="769" width="104" height="19" fill="#000" />
<rect x="418" y="768" width="102" height="19" fill="#fff" />
<text x="16.3" y="784" font-size="12.5" fill="#6e6e6e" textLength="81.5" lengthAdjust="spacing" >EURUSD,Daily</text>
<text x="118.8" y="784" font-size="12.5" fill="#6e6e6e" textLength="80.0" lengthAdjust="spacing" >USDCHF,Daily</text>
<text x="219.3" y="784" font-size="12.5" fill="#6e6e6e" textLength="83.5" lengthAdjust="spacing" >AUDUSD,Daily</text>
<text x="323.3" y="784" font-size="12.5" fill="#6e6e6e" textLength="82.5" lengthAdjust="spacing" >USDCAD,Daily</text>
<text x="426.8" y="784" font-size="12.5" fill="#000" textLength="84.0" lengthAdjust="spacing" >USDCNH,Daily</text>
<text x="532.3" y="784" font-size="12.5" fill="#6e6e6e" textLength="81.0" lengthAdjust="spacing" >EURUSD,Daily</text>
<text x="636.8" y="784" font-size="12.5" fill="#6e6e6e" textLength="69.0" lengthAdjust="spacing" >GBPUSD,H4</text>
<text x="727.3" y="784" font-size="12.5" fill="#6e6e6e" textLength="70.5" lengthAdjust="spacing" >XAUUSD,H1</text>
<text x="819.8" y="784" font-size="12.5" fill="#6e6e6e" textLength="50.5" lengthAdjust="spacing" >HK50,H1</text>
<text x="891.8" y="784" font-size="12.5" fill="#6e6e6e" textLength="57.0" lengthAdjust="spacing" >UK100,H1</text>
<text x="971.8" y="784" font-size="12.5" fill="#6e6e6e" textLength="57.5" lengthAdjust="spacing" >UK100,H1</text>
<text x="1051.8" y="784" font-size="12.5" fill="#6e6e6e" textLength="57.0" lengthAdjust="spacing" >GER30,H1</text>
<text x="1131.3" y="784" font-size="12.5" fill="#6e6e6e" textLength="54.5" lengthAdjust="spacing" >FRA40,H1</text>
<text x="1206.8" y="784" font-size="12.5" fill="#6e6e6e" textLength="64.0" lengthAdjust="spacing" >USOil,Daily</text>
<text x="1290.3" y="784" font-size="12.5" fill="#6e6e6e" textLength="64.0" lengthAdjust="spacing" >USDJPY,H1</text>
<text x="1374.3" y="784" font-size="12.5" fill="#6e6e6e" textLength="60.5" lengthAdjust="spacing" >DJ30,Daily</text>
<text x="1454.3" y="784" font-size="12.5" fill="#6e6e6e" textLength="80.0" lengthAdjust="spacing" >CHINA300,H1</text>
<text x="1554.8" y="784" font-size="12.5" fill="#6e6e6e" textLength="36.0" lengthAdjust="spacing" >USOil,</text>
<rect x="109" y="772" width="1" height="15" fill="#6e6e6e" />
<rect x="209" y="772" width="1" height="15" fill="#6e6e6e" />
<rect x="313" y="772" width="1" height="15" fill="#6e6e6e" />
<rect x="625" y="772" width="1" height="15" fill="#6e6e6e" />
<rect x="717" y="772" width="1" height="15" fill="#6e6e6e" />
<rect x="809" y="772" width="1" height="15" fill="#6e6e6e" />
<rect x="881" y="772" width="1" height="15" fill="#6e6e6e" />
<rect x="961" y="772" width="1" height="15" fill="#6e6e6e" />
<rect x="1041" y="772" width="1" height="15" fill="#6e6e6e" />
<rect x="1121" y="772" width="1" height="15" fill="#6e6e6e" />
<rect x="1197" y="772" width="1" height="15" fill="#6e6e6e" />
<rect x="1281" y="772" width="1" height="15" fill="#6e6e6e" />
<rect x="1365" y="772" width="1" height="15" fill="#6e6e6e" />
<rect x="1445" y="772" width="1" height="15" fill="#6e6e6e" />
<rect x="1545" y="772" width="1" height="15" fill="#6e6e6e" />
<path d="M1595.5 778 L1599 774.7 L1599 781.3 Z" fill="#9a9a9a" shape-rendering="auto"/>
<path d="M1618.2 778 L1614.5 774.3 L1614.5 781.7 Z" fill="#000" shape-rendering="auto"/>
</svg>
</body></html>
